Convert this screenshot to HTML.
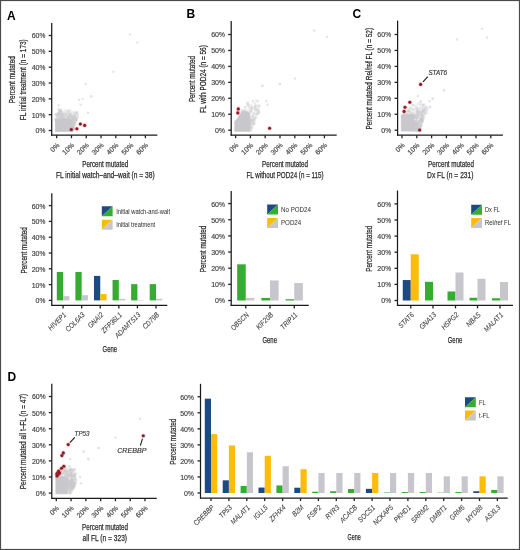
<!DOCTYPE html>
<html><head><meta charset="utf-8"><style>
html,body{margin:0;padding:0;background:#fff;}
body{width:520px;height:550px;overflow:hidden;}
svg{display:block;font-family:"Liberation Sans", sans-serif;filter:blur(0.35px);}
</style></head><body>
<svg width="520" height="550" viewBox="0 0 520 550">
<rect x="0" y="0" width="520" height="550" fill="#fff"/>
<text x="7.00" y="19.70" font-size="12" text-anchor="start" fill="#000" font-weight="bold">A</text>
<text x="186.60" y="17.60" font-size="12" text-anchor="start" fill="#000" font-weight="bold">B</text>
<text x="352.60" y="17.60" font-size="12" text-anchor="start" fill="#000" font-weight="bold">C</text>
<text x="7.60" y="380.50" font-size="12" text-anchor="start" fill="#000" font-weight="bold">D</text>
<line x1="51.70" y1="23.00" x2="51.70" y2="135.80" stroke="#1a1a1a" stroke-width="1.25"/>
<line x1="48.70" y1="130.50" x2="51.70" y2="130.50" stroke="#222" stroke-width="1.3"/>
<text x="45.40" y="133.40" font-size="7.0" text-anchor="end" fill="#3d3d3d" stroke="#3d3d3d" stroke-width="0.15">0<tspan font-size="6.6" >%</tspan></text>
<line x1="48.70" y1="114.67" x2="51.70" y2="114.67" stroke="#222" stroke-width="1.3"/>
<text x="45.40" y="117.57" font-size="7.0" text-anchor="end" fill="#3d3d3d" stroke="#3d3d3d" stroke-width="0.15">10<tspan font-size="6.6" >%</tspan></text>
<line x1="48.70" y1="98.84" x2="51.70" y2="98.84" stroke="#222" stroke-width="1.3"/>
<text x="45.40" y="101.74" font-size="7.0" text-anchor="end" fill="#3d3d3d" stroke="#3d3d3d" stroke-width="0.15">20<tspan font-size="6.6" >%</tspan></text>
<line x1="48.70" y1="83.01" x2="51.70" y2="83.01" stroke="#222" stroke-width="1.3"/>
<text x="45.40" y="85.91" font-size="7.0" text-anchor="end" fill="#3d3d3d" stroke="#3d3d3d" stroke-width="0.15">30<tspan font-size="6.6" >%</tspan></text>
<line x1="48.70" y1="67.18" x2="51.70" y2="67.18" stroke="#222" stroke-width="1.3"/>
<text x="45.40" y="70.08" font-size="7.0" text-anchor="end" fill="#3d3d3d" stroke="#3d3d3d" stroke-width="0.15">40<tspan font-size="6.6" >%</tspan></text>
<line x1="48.70" y1="51.35" x2="51.70" y2="51.35" stroke="#222" stroke-width="1.3"/>
<text x="45.40" y="54.25" font-size="7.0" text-anchor="end" fill="#3d3d3d" stroke="#3d3d3d" stroke-width="0.15">50<tspan font-size="6.6" >%</tspan></text>
<line x1="48.70" y1="35.52" x2="51.70" y2="35.52" stroke="#222" stroke-width="1.3"/>
<text x="45.40" y="38.42" font-size="7.0" text-anchor="end" fill="#3d3d3d" stroke="#3d3d3d" stroke-width="0.15">60<tspan font-size="6.6" >%</tspan></text>
<line x1="51.00" y1="135.20" x2="157.30" y2="135.20" stroke="#1a1a1a" stroke-width="1.25"/>
<line x1="56.70" y1="135.20" x2="56.70" y2="138.20" stroke="#222" stroke-width="1.3"/>
<text x="59.90" y="145.60" font-size="7.0" text-anchor="end" fill="#3d3d3d" stroke="#3d3d3d" stroke-width="0.15" transform="rotate(-45 59.90 145.60)">0<tspan font-size="6.6" >%</tspan></text>
<line x1="71.48" y1="135.20" x2="71.48" y2="138.20" stroke="#222" stroke-width="1.3"/>
<text x="74.68" y="145.60" font-size="7.0" text-anchor="end" fill="#3d3d3d" stroke="#3d3d3d" stroke-width="0.15" transform="rotate(-45 74.68 145.60)">10<tspan font-size="6.6" >%</tspan></text>
<line x1="86.26" y1="135.20" x2="86.26" y2="138.20" stroke="#222" stroke-width="1.3"/>
<text x="89.46" y="145.60" font-size="7.0" text-anchor="end" fill="#3d3d3d" stroke="#3d3d3d" stroke-width="0.15" transform="rotate(-45 89.46 145.60)">20<tspan font-size="6.6" >%</tspan></text>
<line x1="101.04" y1="135.20" x2="101.04" y2="138.20" stroke="#222" stroke-width="1.3"/>
<text x="104.24" y="145.60" font-size="7.0" text-anchor="end" fill="#3d3d3d" stroke="#3d3d3d" stroke-width="0.15" transform="rotate(-45 104.24 145.60)">30<tspan font-size="6.6" >%</tspan></text>
<line x1="115.82" y1="135.20" x2="115.82" y2="138.20" stroke="#222" stroke-width="1.3"/>
<text x="119.02" y="145.60" font-size="7.0" text-anchor="end" fill="#3d3d3d" stroke="#3d3d3d" stroke-width="0.15" transform="rotate(-45 119.02 145.60)">40<tspan font-size="6.6" >%</tspan></text>
<line x1="130.60" y1="135.20" x2="130.60" y2="138.20" stroke="#222" stroke-width="1.3"/>
<text x="133.80" y="145.60" font-size="7.0" text-anchor="end" fill="#3d3d3d" stroke="#3d3d3d" stroke-width="0.15" transform="rotate(-45 133.80 145.60)">50<tspan font-size="6.6" >%</tspan></text>
<line x1="145.38" y1="135.20" x2="145.38" y2="138.20" stroke="#222" stroke-width="1.3"/>
<text x="148.58" y="145.60" font-size="7.0" text-anchor="end" fill="#3d3d3d" stroke="#3d3d3d" stroke-width="0.15" transform="rotate(-45 148.58 145.60)">60<tspan font-size="6.6" >%</tspan></text>
<text x="15.50" y="79.70" font-size="9.0" text-anchor="middle" fill="#2a2a2a" stroke="#2a2a2a" stroke-width="0.25" textLength="46.90" lengthAdjust="spacingAndGlyphs" transform="rotate(-90 15.50 79.70)">Percent mutated</text>
<text x="25.70" y="79.70" font-size="9.0" text-anchor="middle" fill="#2a2a2a" stroke="#2a2a2a" stroke-width="0.25" textLength="80.90" lengthAdjust="spacingAndGlyphs" transform="rotate(-90 25.70 79.70)">FL initial treatment (n = 173)</text>
<text x="105.20" y="166.60" font-size="9.0" text-anchor="middle" fill="#2a2a2a" stroke="#2a2a2a" stroke-width="0.25" textLength="45.90" lengthAdjust="spacingAndGlyphs">Percent mutated</text>
<text x="105.30" y="177.50" font-size="9.0" text-anchor="middle" fill="#2a2a2a" stroke="#2a2a2a" stroke-width="0.25" textLength="98.60" lengthAdjust="spacingAndGlyphs">FL initial watch–and–wait (n = 38)</text>
<circle cx="56.92" cy="120.88" r="1.3" fill="#c9c9cd" fill-opacity="0.3"/>
<circle cx="56.58" cy="120.22" r="1.3" fill="#c9c9cd" fill-opacity="0.3"/>
<circle cx="65.52" cy="110.11" r="1.3" fill="#c9c9cd" fill-opacity="0.3"/>
<circle cx="71.39" cy="118.38" r="1.3" fill="#c9c9cd" fill-opacity="0.3"/>
<circle cx="69.14" cy="118.97" r="1.3" fill="#c9c9cd" fill-opacity="0.3"/>
<circle cx="74.11" cy="124.65" r="1.3" fill="#c9c9cd" fill-opacity="0.3"/>
<circle cx="58.82" cy="119.80" r="1.3" fill="#c9c9cd" fill-opacity="0.3"/>
<circle cx="71.10" cy="126.16" r="1.3" fill="#c9c9cd" fill-opacity="0.3"/>
<circle cx="69.35" cy="121.90" r="1.3" fill="#c9c9cd" fill-opacity="0.3"/>
<circle cx="55.74" cy="119.17" r="1.3" fill="#c9c9cd" fill-opacity="0.3"/>
<circle cx="58.79" cy="112.57" r="1.3" fill="#c9c9cd" fill-opacity="0.3"/>
<circle cx="73.76" cy="128.70" r="1.3" fill="#c9c9cd" fill-opacity="0.3"/>
<circle cx="64.54" cy="117.72" r="1.3" fill="#c9c9cd" fill-opacity="0.3"/>
<circle cx="70.30" cy="109.94" r="1.3" fill="#c9c9cd" fill-opacity="0.3"/>
<circle cx="57.61" cy="116.90" r="1.3" fill="#c9c9cd" fill-opacity="0.3"/>
<circle cx="61.20" cy="116.52" r="1.3" fill="#c9c9cd" fill-opacity="0.3"/>
<circle cx="66.29" cy="119.68" r="1.3" fill="#c9c9cd" fill-opacity="0.3"/>
<circle cx="57.63" cy="116.41" r="1.3" fill="#c9c9cd" fill-opacity="0.3"/>
<circle cx="74.93" cy="112.23" r="1.3" fill="#c9c9cd" fill-opacity="0.3"/>
<circle cx="61.41" cy="116.97" r="1.3" fill="#c9c9cd" fill-opacity="0.3"/>
<circle cx="67.52" cy="116.71" r="1.3" fill="#c9c9cd" fill-opacity="0.3"/>
<circle cx="55.86" cy="114.95" r="1.3" fill="#c9c9cd" fill-opacity="0.3"/>
<circle cx="71.68" cy="130.60" r="1.3" fill="#c9c9cd" fill-opacity="0.3"/>
<circle cx="63.88" cy="113.59" r="1.3" fill="#c9c9cd" fill-opacity="0.3"/>
<circle cx="70.74" cy="126.97" r="1.3" fill="#c9c9cd" fill-opacity="0.3"/>
<circle cx="70.92" cy="129.52" r="1.3" fill="#c9c9cd" fill-opacity="0.3"/>
<circle cx="73.05" cy="119.54" r="1.3" fill="#c9c9cd" fill-opacity="0.3"/>
<circle cx="68.26" cy="111.53" r="1.3" fill="#c9c9cd" fill-opacity="0.3"/>
<circle cx="74.86" cy="113.38" r="1.3" fill="#c9c9cd" fill-opacity="0.3"/>
<circle cx="61.37" cy="118.18" r="1.3" fill="#c9c9cd" fill-opacity="0.3"/>
<circle cx="68.42" cy="126.62" r="1.3" fill="#c9c9cd" fill-opacity="0.3"/>
<circle cx="68.54" cy="114.24" r="1.3" fill="#c9c9cd" fill-opacity="0.3"/>
<circle cx="73.58" cy="120.23" r="1.3" fill="#c9c9cd" fill-opacity="0.3"/>
<circle cx="73.29" cy="129.58" r="1.3" fill="#c9c9cd" fill-opacity="0.3"/>
<circle cx="69.78" cy="120.18" r="1.3" fill="#c9c9cd" fill-opacity="0.3"/>
<circle cx="56.93" cy="114.06" r="1.3" fill="#c9c9cd" fill-opacity="0.3"/>
<circle cx="70.05" cy="120.33" r="1.3" fill="#c9c9cd" fill-opacity="0.3"/>
<circle cx="57.69" cy="114.63" r="1.3" fill="#c9c9cd" fill-opacity="0.3"/>
<circle cx="73.74" cy="114.75" r="1.3" fill="#c9c9cd" fill-opacity="0.3"/>
<circle cx="68.78" cy="124.68" r="1.3" fill="#c9c9cd" fill-opacity="0.3"/>
<circle cx="60.87" cy="111.03" r="1.3" fill="#c9c9cd" fill-opacity="0.3"/>
<circle cx="55.63" cy="114.29" r="1.3" fill="#c9c9cd" fill-opacity="0.3"/>
<circle cx="72.65" cy="121.23" r="1.3" fill="#c9c9cd" fill-opacity="0.3"/>
<circle cx="74.69" cy="118.48" r="1.3" fill="#c9c9cd" fill-opacity="0.3"/>
<circle cx="64.83" cy="116.53" r="1.3" fill="#c9c9cd" fill-opacity="0.3"/>
<circle cx="61.28" cy="112.27" r="1.3" fill="#c9c9cd" fill-opacity="0.3"/>
<circle cx="61.91" cy="114.10" r="1.3" fill="#c9c9cd" fill-opacity="0.3"/>
<circle cx="62.57" cy="116.74" r="1.3" fill="#c9c9cd" fill-opacity="0.3"/>
<circle cx="64.28" cy="119.46" r="1.3" fill="#c9c9cd" fill-opacity="0.3"/>
<circle cx="59.98" cy="120.16" r="1.3" fill="#c9c9cd" fill-opacity="0.3"/>
<circle cx="60.74" cy="122.03" r="1.3" fill="#c9c9cd" fill-opacity="0.3"/>
<circle cx="76.12" cy="117.50" r="1.3" fill="#c9c9cd" fill-opacity="0.3"/>
<circle cx="67.20" cy="127.79" r="1.3" fill="#c9c9cd" fill-opacity="0.3"/>
<circle cx="71.45" cy="124.52" r="1.3" fill="#c9c9cd" fill-opacity="0.3"/>
<circle cx="70.14" cy="122.97" r="1.3" fill="#c9c9cd" fill-opacity="0.3"/>
<circle cx="73.01" cy="120.12" r="1.3" fill="#c9c9cd" fill-opacity="0.3"/>
<circle cx="69.88" cy="123.35" r="1.3" fill="#c9c9cd" fill-opacity="0.3"/>
<circle cx="62.45" cy="121.62" r="1.3" fill="#c9c9cd" fill-opacity="0.3"/>
<circle cx="71.67" cy="124.11" r="1.3" fill="#c9c9cd" fill-opacity="0.3"/>
<circle cx="67.49" cy="119.23" r="1.3" fill="#c9c9cd" fill-opacity="0.3"/>
<circle cx="65.90" cy="114.71" r="1.3" fill="#c9c9cd" fill-opacity="0.3"/>
<circle cx="76.57" cy="119.73" r="1.3" fill="#c9c9cd" fill-opacity="0.3"/>
<circle cx="55.29" cy="119.86" r="1.3" fill="#c9c9cd" fill-opacity="0.3"/>
<circle cx="73.07" cy="127.88" r="1.3" fill="#c9c9cd" fill-opacity="0.3"/>
<circle cx="62.10" cy="117.10" r="1.3" fill="#c9c9cd" fill-opacity="0.3"/>
<circle cx="65.39" cy="114.86" r="1.3" fill="#c9c9cd" fill-opacity="0.3"/>
<circle cx="77.47" cy="114.26" r="1.3" fill="#c9c9cd" fill-opacity="0.3"/>
<circle cx="68.27" cy="125.12" r="1.3" fill="#c9c9cd" fill-opacity="0.3"/>
<circle cx="70.54" cy="115.11" r="1.3" fill="#c9c9cd" fill-opacity="0.3"/>
<circle cx="62.36" cy="121.37" r="1.3" fill="#c9c9cd" fill-opacity="0.3"/>
<circle cx="59.18" cy="112.23" r="1.3" fill="#c9c9cd" fill-opacity="0.3"/>
<circle cx="76.76" cy="119.98" r="1.3" fill="#c9c9cd" fill-opacity="0.3"/>
<circle cx="58.52" cy="112.94" r="1.3" fill="#c9c9cd" fill-opacity="0.3"/>
<circle cx="73.04" cy="118.04" r="1.3" fill="#c9c9cd" fill-opacity="0.3"/>
<circle cx="67.68" cy="117.21" r="1.3" fill="#c9c9cd" fill-opacity="0.3"/>
<circle cx="75.74" cy="113.49" r="1.3" fill="#c9c9cd" fill-opacity="0.3"/>
<circle cx="61.11" cy="117.73" r="1.3" fill="#c9c9cd" fill-opacity="0.3"/>
<circle cx="61.11" cy="111.02" r="1.3" fill="#c9c9cd" fill-opacity="0.3"/>
<circle cx="66.08" cy="121.24" r="1.3" fill="#c9c9cd" fill-opacity="0.3"/>
<circle cx="70.56" cy="115.52" r="1.3" fill="#c9c9cd" fill-opacity="0.3"/>
<circle cx="69.07" cy="117.46" r="1.3" fill="#c9c9cd" fill-opacity="0.3"/>
<circle cx="76.23" cy="119.48" r="1.3" fill="#c9c9cd" fill-opacity="0.3"/>
<circle cx="71.25" cy="118.20" r="1.3" fill="#c9c9cd" fill-opacity="0.3"/>
<circle cx="71.08" cy="129.87" r="1.3" fill="#c9c9cd" fill-opacity="0.3"/>
<circle cx="72.79" cy="120.16" r="1.3" fill="#c9c9cd" fill-opacity="0.3"/>
<circle cx="71.03" cy="130.42" r="1.3" fill="#c9c9cd" fill-opacity="0.3"/>
<circle cx="58.58" cy="109.70" r="1.3" fill="#c9c9cd" fill-opacity="0.3"/>
<circle cx="64.21" cy="117.14" r="1.3" fill="#c9c9cd" fill-opacity="0.3"/>
<circle cx="56.37" cy="119.44" r="1.3" fill="#c9c9cd" fill-opacity="0.3"/>
<circle cx="62.73" cy="114.87" r="1.3" fill="#c9c9cd" fill-opacity="0.3"/>
<circle cx="73.18" cy="129.67" r="1.3" fill="#c9c9cd" fill-opacity="0.3"/>
<circle cx="73.59" cy="122.53" r="1.3" fill="#c9c9cd" fill-opacity="0.3"/>
<circle cx="61.09" cy="110.00" r="1.3" fill="#c9c9cd" fill-opacity="0.3"/>
<circle cx="72.09" cy="118.82" r="1.3" fill="#c9c9cd" fill-opacity="0.3"/>
<circle cx="65.12" cy="122.83" r="1.3" fill="#c9c9cd" fill-opacity="0.3"/>
<circle cx="73.00" cy="128.07" r="1.3" fill="#c9c9cd" fill-opacity="0.3"/>
<circle cx="59.94" cy="114.22" r="1.3" fill="#c9c9cd" fill-opacity="0.3"/>
<circle cx="66.50" cy="127.42" r="1.3" fill="#c9c9cd" fill-opacity="0.3"/>
<circle cx="75.81" cy="118.87" r="1.3" fill="#c9c9cd" fill-opacity="0.3"/>
<circle cx="69.39" cy="122.82" r="1.3" fill="#c9c9cd" fill-opacity="0.3"/>
<circle cx="63.98" cy="111.77" r="1.3" fill="#c9c9cd" fill-opacity="0.3"/>
<circle cx="61.27" cy="122.35" r="1.3" fill="#c9c9cd" fill-opacity="0.3"/>
<circle cx="68.29" cy="123.27" r="1.3" fill="#c9c9cd" fill-opacity="0.3"/>
<circle cx="62.63" cy="121.59" r="1.3" fill="#c9c9cd" fill-opacity="0.3"/>
<circle cx="76.21" cy="119.15" r="1.3" fill="#c9c9cd" fill-opacity="0.3"/>
<circle cx="64.03" cy="120.15" r="1.3" fill="#c9c9cd" fill-opacity="0.3"/>
<circle cx="67.53" cy="117.36" r="1.3" fill="#c9c9cd" fill-opacity="0.3"/>
<circle cx="65.33" cy="123.72" r="1.3" fill="#c9c9cd" fill-opacity="0.3"/>
<circle cx="73.76" cy="119.09" r="1.3" fill="#c9c9cd" fill-opacity="0.3"/>
<circle cx="66.46" cy="110.97" r="1.3" fill="#c9c9cd" fill-opacity="0.3"/>
<circle cx="77.09" cy="113.31" r="1.3" fill="#c9c9cd" fill-opacity="0.3"/>
<circle cx="67.24" cy="115.87" r="1.3" fill="#c9c9cd" fill-opacity="0.3"/>
<circle cx="71.38" cy="129.18" r="1.3" fill="#c9c9cd" fill-opacity="0.3"/>
<circle cx="73.40" cy="118.72" r="1.3" fill="#c9c9cd" fill-opacity="0.3"/>
<circle cx="69.14" cy="123.83" r="1.3" fill="#c9c9cd" fill-opacity="0.3"/>
<circle cx="60.54" cy="121.98" r="1.3" fill="#c9c9cd" fill-opacity="0.3"/>
<circle cx="60.06" cy="122.91" r="1.3" fill="#c9c9cd" fill-opacity="0.3"/>
<circle cx="67.85" cy="117.88" r="1.3" fill="#c9c9cd" fill-opacity="0.3"/>
<circle cx="59.95" cy="122.55" r="1.3" fill="#c9c9cd" fill-opacity="0.3"/>
<circle cx="70.47" cy="127.29" r="1.3" fill="#c9c9cd" fill-opacity="0.3"/>
<circle cx="62.56" cy="115.44" r="1.3" fill="#c9c9cd" fill-opacity="0.3"/>
<circle cx="66.27" cy="125.63" r="1.3" fill="#c9c9cd" fill-opacity="0.3"/>
<circle cx="71.74" cy="128.03" r="1.3" fill="#c9c9cd" fill-opacity="0.3"/>
<circle cx="61.53" cy="121.29" r="1.3" fill="#c9c9cd" fill-opacity="0.3"/>
<circle cx="73.97" cy="120.59" r="1.3" fill="#c9c9cd" fill-opacity="0.3"/>
<circle cx="70.21" cy="124.50" r="1.3" fill="#c9c9cd" fill-opacity="0.3"/>
<circle cx="71.80" cy="128.31" r="1.3" fill="#c9c9cd" fill-opacity="0.3"/>
<circle cx="72.45" cy="121.67" r="1.3" fill="#c9c9cd" fill-opacity="0.3"/>
<circle cx="60.24" cy="122.88" r="1.3" fill="#c9c9cd" fill-opacity="0.3"/>
<circle cx="76.88" cy="111.84" r="1.3" fill="#c9c9cd" fill-opacity="0.3"/>
<circle cx="58.58" cy="109.16" r="1.3" fill="#c9c9cd" fill-opacity="0.3"/>
<circle cx="60.10" cy="111.09" r="1.3" fill="#c9c9cd" fill-opacity="0.3"/>
<circle cx="74.84" cy="123.09" r="1.3" fill="#c9c9cd" fill-opacity="0.3"/>
<circle cx="55.70" cy="114.43" r="1.3" fill="#c9c9cd" fill-opacity="0.3"/>
<circle cx="72.24" cy="117.00" r="1.3" fill="#c9c9cd" fill-opacity="0.3"/>
<circle cx="65.59" cy="126.36" r="1.3" fill="#c9c9cd" fill-opacity="0.3"/>
<circle cx="71.97" cy="120.93" r="1.3" fill="#c9c9cd" fill-opacity="0.3"/>
<circle cx="59.59" cy="119.92" r="1.3" fill="#c9c9cd" fill-opacity="0.3"/>
<circle cx="73.93" cy="123.01" r="1.3" fill="#c9c9cd" fill-opacity="0.3"/>
<circle cx="60.76" cy="119.15" r="1.3" fill="#c9c9cd" fill-opacity="0.3"/>
<circle cx="73.16" cy="125.89" r="1.3" fill="#c9c9cd" fill-opacity="0.3"/>
<circle cx="63.49" cy="116.05" r="1.3" fill="#c9c9cd" fill-opacity="0.3"/>
<circle cx="76.27" cy="114.00" r="1.3" fill="#c9c9cd" fill-opacity="0.3"/>
<circle cx="62.97" cy="120.56" r="1.3" fill="#c9c9cd" fill-opacity="0.3"/>
<circle cx="74.12" cy="125.44" r="1.3" fill="#c9c9cd" fill-opacity="0.3"/>
<circle cx="59.87" cy="123.24" r="1.3" fill="#c9c9cd" fill-opacity="0.3"/>
<circle cx="60.11" cy="117.47" r="1.3" fill="#c9c9cd" fill-opacity="0.3"/>
<circle cx="67.11" cy="123.11" r="1.3" fill="#c9c9cd" fill-opacity="0.3"/>
<circle cx="58.58" cy="122.45" r="1.3" fill="#c9c9cd" fill-opacity="0.3"/>
<circle cx="72.83" cy="129.47" r="1.3" fill="#c9c9cd" fill-opacity="0.3"/>
<circle cx="68.86" cy="125.80" r="1.3" fill="#c9c9cd" fill-opacity="0.3"/>
<circle cx="71.37" cy="123.32" r="1.3" fill="#c9c9cd" fill-opacity="0.3"/>
<circle cx="62.65" cy="123.01" r="1.3" fill="#c9c9cd" fill-opacity="0.3"/>
<circle cx="65.19" cy="126.57" r="1.3" fill="#c9c9cd" fill-opacity="0.3"/>
<circle cx="66.03" cy="122.86" r="1.3" fill="#c9c9cd" fill-opacity="0.3"/>
<circle cx="71.27" cy="129.99" r="1.3" fill="#c9c9cd" fill-opacity="0.3"/>
<circle cx="70.78" cy="126.48" r="1.3" fill="#c9c9cd" fill-opacity="0.3"/>
<circle cx="65.21" cy="124.63" r="1.3" fill="#c9c9cd" fill-opacity="0.3"/>
<circle cx="74.28" cy="117.55" r="1.3" fill="#c9c9cd" fill-opacity="0.3"/>
<circle cx="70.40" cy="127.41" r="1.3" fill="#c9c9cd" fill-opacity="0.3"/>
<circle cx="61.23" cy="118.34" r="1.3" fill="#c9c9cd" fill-opacity="0.3"/>
<circle cx="65.40" cy="123.22" r="1.3" fill="#c9c9cd" fill-opacity="0.3"/>
<circle cx="73.68" cy="116.50" r="1.3" fill="#c9c9cd" fill-opacity="0.3"/>
<circle cx="71.11" cy="129.15" r="1.3" fill="#c9c9cd" fill-opacity="0.3"/>
<circle cx="67.83" cy="125.64" r="1.3" fill="#c9c9cd" fill-opacity="0.3"/>
<circle cx="76.21" cy="121.32" r="1.3" fill="#c9c9cd" fill-opacity="0.3"/>
<circle cx="56.59" cy="119.29" r="1.3" fill="#c9c9cd" fill-opacity="0.3"/>
<circle cx="66.89" cy="120.01" r="1.3" fill="#c9c9cd" fill-opacity="0.3"/>
<circle cx="75.21" cy="117.16" r="1.3" fill="#c9c9cd" fill-opacity="0.3"/>
<circle cx="71.45" cy="130.02" r="1.3" fill="#c9c9cd" fill-opacity="0.3"/>
<circle cx="63.91" cy="119.46" r="1.3" fill="#c9c9cd" fill-opacity="0.3"/>
<circle cx="63.08" cy="115.82" r="1.3" fill="#c9c9cd" fill-opacity="0.3"/>
<circle cx="70.12" cy="124.59" r="1.3" fill="#c9c9cd" fill-opacity="0.3"/>
<circle cx="66.10" cy="126.12" r="1.3" fill="#c9c9cd" fill-opacity="0.3"/>
<circle cx="60.25" cy="112.01" r="1.3" fill="#c9c9cd" fill-opacity="0.3"/>
<circle cx="70.16" cy="124.88" r="1.3" fill="#c9c9cd" fill-opacity="0.3"/>
<circle cx="70.69" cy="127.38" r="1.3" fill="#c9c9cd" fill-opacity="0.3"/>
<circle cx="62.60" cy="125.35" r="1.3" fill="#c9c9cd" fill-opacity="0.3"/>
<circle cx="75.69" cy="119.73" r="1.3" fill="#c9c9cd" fill-opacity="0.3"/>
<circle cx="63.95" cy="121.78" r="1.3" fill="#c9c9cd" fill-opacity="0.3"/>
<circle cx="63.85" cy="123.40" r="1.3" fill="#c9c9cd" fill-opacity="0.3"/>
<circle cx="71.94" cy="127.61" r="1.3" fill="#c9c9cd" fill-opacity="0.3"/>
<circle cx="69.52" cy="129.20" r="1.3" fill="#c9c9cd" fill-opacity="0.3"/>
<circle cx="71.49" cy="129.61" r="1.3" fill="#c9c9cd" fill-opacity="0.3"/>
<circle cx="66.27" cy="113.27" r="1.3" fill="#c9c9cd" fill-opacity="0.3"/>
<circle cx="73.08" cy="126.79" r="1.3" fill="#c9c9cd" fill-opacity="0.3"/>
<circle cx="76.27" cy="120.55" r="1.3" fill="#c9c9cd" fill-opacity="0.3"/>
<circle cx="69.23" cy="112.87" r="1.3" fill="#c9c9cd" fill-opacity="0.3"/>
<circle cx="63.41" cy="120.50" r="1.3" fill="#c9c9cd" fill-opacity="0.3"/>
<circle cx="66.77" cy="121.60" r="1.3" fill="#c9c9cd" fill-opacity="0.3"/>
<circle cx="59.50" cy="110.43" r="1.3" fill="#c9c9cd" fill-opacity="0.3"/>
<circle cx="68.47" cy="128.61" r="1.3" fill="#c9c9cd" fill-opacity="0.3"/>
<circle cx="69.43" cy="117.68" r="1.3" fill="#c9c9cd" fill-opacity="0.3"/>
<circle cx="64.56" cy="118.86" r="1.3" fill="#c9c9cd" fill-opacity="0.3"/>
<circle cx="59.21" cy="114.01" r="1.3" fill="#c9c9cd" fill-opacity="0.3"/>
<circle cx="70.16" cy="118.95" r="1.3" fill="#c9c9cd" fill-opacity="0.3"/>
<circle cx="58.60" cy="113.62" r="1.3" fill="#c9c9cd" fill-opacity="0.3"/>
<circle cx="72.19" cy="121.28" r="1.3" fill="#c9c9cd" fill-opacity="0.3"/>
<circle cx="62.01" cy="114.46" r="1.3" fill="#c9c9cd" fill-opacity="0.3"/>
<circle cx="74.41" cy="116.37" r="1.3" fill="#c9c9cd" fill-opacity="0.3"/>
<circle cx="60.39" cy="121.70" r="1.3" fill="#c9c9cd" fill-opacity="0.3"/>
<circle cx="59.88" cy="110.33" r="1.3" fill="#c9c9cd" fill-opacity="0.3"/>
<circle cx="69.68" cy="119.95" r="1.3" fill="#c9c9cd" fill-opacity="0.3"/>
<circle cx="74.52" cy="121.97" r="1.3" fill="#c9c9cd" fill-opacity="0.3"/>
<circle cx="55.31" cy="120.51" r="1.3" fill="#c9c9cd" fill-opacity="0.3"/>
<circle cx="66.98" cy="120.36" r="1.3" fill="#c9c9cd" fill-opacity="0.3"/>
<circle cx="60.52" cy="112.71" r="1.3" fill="#c9c9cd" fill-opacity="0.3"/>
<circle cx="67.65" cy="124.73" r="1.3" fill="#c9c9cd" fill-opacity="0.3"/>
<circle cx="58.13" cy="119.90" r="1.3" fill="#c9c9cd" fill-opacity="0.3"/>
<circle cx="73.69" cy="116.32" r="1.3" fill="#c9c9cd" fill-opacity="0.3"/>
<circle cx="65.25" cy="123.12" r="1.3" fill="#c9c9cd" fill-opacity="0.3"/>
<circle cx="61.53" cy="124.17" r="1.3" fill="#c9c9cd" fill-opacity="0.3"/>
<circle cx="61.16" cy="120.52" r="1.3" fill="#c9c9cd" fill-opacity="0.3"/>
<circle cx="77.83" cy="115.14" r="1.3" fill="#c9c9cd" fill-opacity="0.3"/>
<circle cx="66.30" cy="120.83" r="1.3" fill="#c9c9cd" fill-opacity="0.3"/>
<circle cx="64.88" cy="115.16" r="1.3" fill="#c9c9cd" fill-opacity="0.3"/>
<circle cx="68.24" cy="122.66" r="1.3" fill="#c9c9cd" fill-opacity="0.3"/>
<circle cx="62.59" cy="114.10" r="1.3" fill="#c9c9cd" fill-opacity="0.3"/>
<circle cx="60.88" cy="121.36" r="1.3" fill="#c9c9cd" fill-opacity="0.3"/>
<circle cx="73.58" cy="112.16" r="1.3" fill="#c9c9cd" fill-opacity="0.3"/>
<circle cx="75.94" cy="118.66" r="1.3" fill="#c9c9cd" fill-opacity="0.3"/>
<circle cx="63.59" cy="124.10" r="1.3" fill="#c9c9cd" fill-opacity="0.3"/>
<circle cx="72.78" cy="125.67" r="1.3" fill="#c9c9cd" fill-opacity="0.3"/>
<circle cx="66.51" cy="126.63" r="1.3" fill="#c9c9cd" fill-opacity="0.3"/>
<circle cx="69.65" cy="117.27" r="1.3" fill="#c9c9cd" fill-opacity="0.3"/>
<circle cx="66.10" cy="125.20" r="1.3" fill="#c9c9cd" fill-opacity="0.3"/>
<circle cx="64.50" cy="121.33" r="1.3" fill="#c9c9cd" fill-opacity="0.3"/>
<circle cx="67.09" cy="118.76" r="1.3" fill="#c9c9cd" fill-opacity="0.3"/>
<circle cx="64.74" cy="121.47" r="1.3" fill="#c9c9cd" fill-opacity="0.3"/>
<circle cx="74.86" cy="120.34" r="1.3" fill="#c9c9cd" fill-opacity="0.3"/>
<circle cx="67.22" cy="112.85" r="1.3" fill="#c9c9cd" fill-opacity="0.3"/>
<circle cx="70.20" cy="122.43" r="1.3" fill="#c9c9cd" fill-opacity="0.3"/>
<circle cx="64.99" cy="126.69" r="1.3" fill="#c9c9cd" fill-opacity="0.3"/>
<circle cx="59.88" cy="120.00" r="1.3" fill="#c9c9cd" fill-opacity="0.3"/>
<circle cx="61.53" cy="123.44" r="1.3" fill="#c9c9cd" fill-opacity="0.3"/>
<circle cx="67.64" cy="127.51" r="1.3" fill="#c9c9cd" fill-opacity="0.3"/>
<circle cx="63.50" cy="118.89" r="1.3" fill="#c9c9cd" fill-opacity="0.3"/>
<circle cx="66.73" cy="126.81" r="1.3" fill="#c9c9cd" fill-opacity="0.3"/>
<circle cx="59.33" cy="116.78" r="1.3" fill="#c9c9cd" fill-opacity="0.3"/>
<circle cx="57.93" cy="120.83" r="1.3" fill="#c9c9cd" fill-opacity="0.3"/>
<circle cx="74.85" cy="116.61" r="1.3" fill="#c9c9cd" fill-opacity="0.3"/>
<circle cx="59.75" cy="115.05" r="1.3" fill="#c9c9cd" fill-opacity="0.3"/>
<circle cx="67.41" cy="121.03" r="1.3" fill="#c9c9cd" fill-opacity="0.3"/>
<circle cx="68.71" cy="115.68" r="1.3" fill="#c9c9cd" fill-opacity="0.3"/>
<circle cx="62.84" cy="123.81" r="1.3" fill="#c9c9cd" fill-opacity="0.3"/>
<circle cx="73.64" cy="128.89" r="1.3" fill="#c9c9cd" fill-opacity="0.3"/>
<circle cx="58.35" cy="114.89" r="1.3" fill="#c9c9cd" fill-opacity="0.3"/>
<circle cx="71.38" cy="123.83" r="1.3" fill="#c9c9cd" fill-opacity="0.3"/>
<circle cx="65.02" cy="123.72" r="1.3" fill="#c9c9cd" fill-opacity="0.3"/>
<circle cx="70.17" cy="112.70" r="1.3" fill="#c9c9cd" fill-opacity="0.3"/>
<circle cx="59.91" cy="115.50" r="1.3" fill="#c9c9cd" fill-opacity="0.3"/>
<circle cx="71.49" cy="116.56" r="1.3" fill="#c9c9cd" fill-opacity="0.3"/>
<circle cx="56.33" cy="114.15" r="1.3" fill="#c9c9cd" fill-opacity="0.3"/>
<circle cx="72.78" cy="127.67" r="1.3" fill="#c9c9cd" fill-opacity="0.3"/>
<circle cx="71.93" cy="127.11" r="1.3" fill="#c9c9cd" fill-opacity="0.3"/>
<circle cx="68.15" cy="114.27" r="1.3" fill="#c9c9cd" fill-opacity="0.3"/>
<circle cx="63.72" cy="118.01" r="1.3" fill="#c9c9cd" fill-opacity="0.3"/>
<circle cx="71.15" cy="113.99" r="1.3" fill="#c9c9cd" fill-opacity="0.3"/>
<circle cx="58.58" cy="121.51" r="1.3" fill="#c9c9cd" fill-opacity="0.3"/>
<circle cx="57.92" cy="115.18" r="1.3" fill="#c9c9cd" fill-opacity="0.3"/>
<circle cx="63.84" cy="112.38" r="1.3" fill="#c9c9cd" fill-opacity="0.3"/>
<circle cx="61.18" cy="114.18" r="1.3" fill="#c9c9cd" fill-opacity="0.3"/>
<circle cx="73.87" cy="127.68" r="1.3" fill="#c9c9cd" fill-opacity="0.3"/>
<circle cx="56.15" cy="118.65" r="1.3" fill="#c9c9cd" fill-opacity="0.3"/>
<circle cx="61.94" cy="123.78" r="1.3" fill="#c9c9cd" fill-opacity="0.3"/>
<circle cx="68.61" cy="116.54" r="1.3" fill="#c9c9cd" fill-opacity="0.3"/>
<circle cx="64.05" cy="121.92" r="1.3" fill="#c9c9cd" fill-opacity="0.3"/>
<circle cx="67.81" cy="121.55" r="1.3" fill="#c9c9cd" fill-opacity="0.3"/>
<circle cx="61.19" cy="119.80" r="1.3" fill="#c9c9cd" fill-opacity="0.3"/>
<circle cx="60.59" cy="121.73" r="1.3" fill="#c9c9cd" fill-opacity="0.3"/>
<circle cx="67.41" cy="122.09" r="1.3" fill="#c9c9cd" fill-opacity="0.3"/>
<circle cx="68.60" cy="126.40" r="1.3" fill="#c9c9cd" fill-opacity="0.3"/>
<circle cx="72.75" cy="130.40" r="1.3" fill="#c9c9cd" fill-opacity="0.3"/>
<circle cx="68.26" cy="127.05" r="1.3" fill="#c9c9cd" fill-opacity="0.3"/>
<circle cx="69.04" cy="111.12" r="1.3" fill="#c9c9cd" fill-opacity="0.3"/>
<circle cx="74.68" cy="124.20" r="1.3" fill="#c9c9cd" fill-opacity="0.3"/>
<circle cx="57.01" cy="116.11" r="1.3" fill="#c9c9cd" fill-opacity="0.3"/>
<circle cx="68.93" cy="117.46" r="1.3" fill="#c9c9cd" fill-opacity="0.3"/>
<circle cx="61.44" cy="121.64" r="1.3" fill="#c9c9cd" fill-opacity="0.3"/>
<circle cx="73.63" cy="123.12" r="1.3" fill="#c9c9cd" fill-opacity="0.3"/>
<circle cx="67.31" cy="123.17" r="1.3" fill="#c9c9cd" fill-opacity="0.3"/>
<circle cx="68.31" cy="117.88" r="1.3" fill="#c9c9cd" fill-opacity="0.3"/>
<circle cx="66.66" cy="116.98" r="1.3" fill="#c9c9cd" fill-opacity="0.3"/>
<circle cx="60.79" cy="116.57" r="1.3" fill="#c9c9cd" fill-opacity="0.3"/>
<circle cx="65.80" cy="121.64" r="1.3" fill="#c9c9cd" fill-opacity="0.3"/>
<circle cx="62.54" cy="125.29" r="1.3" fill="#c9c9cd" fill-opacity="0.3"/>
<circle cx="61.77" cy="114.45" r="1.3" fill="#c9c9cd" fill-opacity="0.3"/>
<circle cx="60.40" cy="117.73" r="1.3" fill="#c9c9cd" fill-opacity="0.3"/>
<circle cx="69.55" cy="128.46" r="1.3" fill="#c9c9cd" fill-opacity="0.3"/>
<circle cx="76.04" cy="116.38" r="1.3" fill="#c9c9cd" fill-opacity="0.3"/>
<circle cx="70.43" cy="129.82" r="1.3" fill="#c9c9cd" fill-opacity="0.3"/>
<circle cx="64.85" cy="124.18" r="1.3" fill="#c9c9cd" fill-opacity="0.3"/>
<circle cx="56.57" cy="118.07" r="1.3" fill="#c9c9cd" fill-opacity="0.3"/>
<circle cx="72.43" cy="116.10" r="1.3" fill="#c9c9cd" fill-opacity="0.3"/>
<circle cx="68.02" cy="122.09" r="1.3" fill="#c9c9cd" fill-opacity="0.3"/>
<circle cx="70.85" cy="122.40" r="1.3" fill="#c9c9cd" fill-opacity="0.3"/>
<circle cx="73.37" cy="126.43" r="1.3" fill="#c9c9cd" fill-opacity="0.3"/>
<circle cx="70.80" cy="126.38" r="1.3" fill="#c9c9cd" fill-opacity="0.3"/>
<circle cx="56.63" cy="120.09" r="1.3" fill="#c9c9cd" fill-opacity="0.3"/>
<circle cx="77.13" cy="112.24" r="1.3" fill="#c9c9cd" fill-opacity="0.3"/>
<circle cx="67.07" cy="123.19" r="1.3" fill="#c9c9cd" fill-opacity="0.3"/>
<circle cx="74.25" cy="119.13" r="1.3" fill="#c9c9cd" fill-opacity="0.3"/>
<circle cx="70.13" cy="113.68" r="1.3" fill="#c9c9cd" fill-opacity="0.3"/>
<circle cx="61.44" cy="118.52" r="1.3" fill="#c9c9cd" fill-opacity="0.3"/>
<circle cx="74.78" cy="115.03" r="1.3" fill="#c9c9cd" fill-opacity="0.3"/>
<circle cx="71.45" cy="122.30" r="1.3" fill="#c9c9cd" fill-opacity="0.3"/>
<circle cx="68.99" cy="128.89" r="1.3" fill="#c9c9cd" fill-opacity="0.3"/>
<circle cx="60.71" cy="118.44" r="1.3" fill="#c9c9cd" fill-opacity="0.3"/>
<circle cx="58.43" cy="118.40" r="1.3" fill="#c9c9cd" fill-opacity="0.3"/>
<circle cx="72.61" cy="114.81" r="1.3" fill="#c9c9cd" fill-opacity="0.3"/>
<circle cx="61.50" cy="110.09" r="1.3" fill="#c9c9cd" fill-opacity="0.3"/>
<circle cx="70.74" cy="121.07" r="1.3" fill="#c9c9cd" fill-opacity="0.3"/>
<circle cx="72.28" cy="117.72" r="1.3" fill="#c9c9cd" fill-opacity="0.3"/>
<circle cx="64.37" cy="117.97" r="1.3" fill="#c9c9cd" fill-opacity="0.3"/>
<circle cx="64.17" cy="114.06" r="1.3" fill="#c9c9cd" fill-opacity="0.3"/>
<circle cx="62.92" cy="123.43" r="1.3" fill="#c9c9cd" fill-opacity="0.3"/>
<circle cx="72.96" cy="128.22" r="1.3" fill="#c9c9cd" fill-opacity="0.3"/>
<circle cx="70.18" cy="125.67" r="1.3" fill="#c9c9cd" fill-opacity="0.3"/>
<circle cx="69.78" cy="124.14" r="1.3" fill="#c9c9cd" fill-opacity="0.3"/>
<circle cx="70.17" cy="121.04" r="1.3" fill="#c9c9cd" fill-opacity="0.3"/>
<circle cx="66.46" cy="125.17" r="1.3" fill="#c9c9cd" fill-opacity="0.3"/>
<circle cx="66.54" cy="113.61" r="1.3" fill="#c9c9cd" fill-opacity="0.3"/>
<circle cx="67.75" cy="127.29" r="1.3" fill="#c9c9cd" fill-opacity="0.3"/>
<circle cx="58.86" cy="114.31" r="1.3" fill="#c9c9cd" fill-opacity="0.3"/>
<circle cx="66.58" cy="126.94" r="1.3" fill="#c9c9cd" fill-opacity="0.3"/>
<circle cx="63.29" cy="117.30" r="1.3" fill="#c9c9cd" fill-opacity="0.3"/>
<circle cx="59.98" cy="121.68" r="1.3" fill="#c9c9cd" fill-opacity="0.3"/>
<circle cx="69.91" cy="117.08" r="1.3" fill="#c9c9cd" fill-opacity="0.3"/>
<circle cx="74.50" cy="116.64" r="1.3" fill="#c9c9cd" fill-opacity="0.3"/>
<circle cx="71.04" cy="116.11" r="1.3" fill="#c9c9cd" fill-opacity="0.3"/>
<circle cx="71.16" cy="125.60" r="1.3" fill="#c9c9cd" fill-opacity="0.3"/>
<circle cx="73.51" cy="126.28" r="1.3" fill="#c9c9cd" fill-opacity="0.3"/>
<circle cx="72.12" cy="119.65" r="1.3" fill="#c9c9cd" fill-opacity="0.3"/>
<circle cx="61.44" cy="115.73" r="1.3" fill="#c9c9cd" fill-opacity="0.3"/>
<circle cx="75.64" cy="121.34" r="1.3" fill="#c9c9cd" fill-opacity="0.3"/>
<circle cx="61.32" cy="113.17" r="1.3" fill="#c9c9cd" fill-opacity="0.3"/>
<circle cx="66.84" cy="121.99" r="1.3" fill="#c9c9cd" fill-opacity="0.3"/>
<circle cx="65.52" cy="123.27" r="1.3" fill="#c9c9cd" fill-opacity="0.3"/>
<circle cx="71.26" cy="115.31" r="1.3" fill="#c9c9cd" fill-opacity="0.3"/>
<circle cx="60.12" cy="110.83" r="1.3" fill="#c9c9cd" fill-opacity="0.3"/>
<circle cx="71.52" cy="112.08" r="1.3" fill="#c9c9cd" fill-opacity="0.3"/>
<circle cx="62.79" cy="121.45" r="1.3" fill="#c9c9cd" fill-opacity="0.3"/>
<circle cx="65.43" cy="124.18" r="1.3" fill="#c9c9cd" fill-opacity="0.3"/>
<circle cx="68.07" cy="110.54" r="1.3" fill="#c9c9cd" fill-opacity="0.3"/>
<circle cx="63.13" cy="118.89" r="1.3" fill="#c9c9cd" fill-opacity="0.3"/>
<circle cx="69.38" cy="119.16" r="1.3" fill="#c9c9cd" fill-opacity="0.3"/>
<circle cx="58.34" cy="121.85" r="1.3" fill="#c9c9cd" fill-opacity="0.3"/>
<circle cx="64.12" cy="123.82" r="1.3" fill="#c9c9cd" fill-opacity="0.3"/>
<circle cx="57.99" cy="119.96" r="1.3" fill="#c9c9cd" fill-opacity="0.3"/>
<circle cx="58.00" cy="119.31" r="1.3" fill="#c9c9cd" fill-opacity="0.3"/>
<circle cx="67.94" cy="120.21" r="1.3" fill="#c9c9cd" fill-opacity="0.3"/>
<circle cx="59.91" cy="117.83" r="1.3" fill="#c9c9cd" fill-opacity="0.3"/>
<circle cx="68.78" cy="124.41" r="1.3" fill="#c9c9cd" fill-opacity="0.3"/>
<circle cx="73.86" cy="124.92" r="1.3" fill="#c9c9cd" fill-opacity="0.3"/>
<circle cx="77.58" cy="118.02" r="1.3" fill="#c9c9cd" fill-opacity="0.3"/>
<circle cx="58.54" cy="113.08" r="1.3" fill="#c9c9cd" fill-opacity="0.3"/>
<circle cx="74.04" cy="119.58" r="1.3" fill="#c9c9cd" fill-opacity="0.3"/>
<circle cx="72.28" cy="116.57" r="1.3" fill="#c9c9cd" fill-opacity="0.3"/>
<circle cx="74.29" cy="122.14" r="1.3" fill="#c9c9cd" fill-opacity="0.3"/>
<circle cx="71.51" cy="124.91" r="1.3" fill="#c9c9cd" fill-opacity="0.3"/>
<circle cx="73.86" cy="126.83" r="1.3" fill="#c9c9cd" fill-opacity="0.3"/>
<circle cx="65.16" cy="122.47" r="1.3" fill="#c9c9cd" fill-opacity="0.3"/>
<circle cx="75.30" cy="122.81" r="1.3" fill="#c9c9cd" fill-opacity="0.3"/>
<circle cx="77.99" cy="116.87" r="1.3" fill="#c9c9cd" fill-opacity="0.3"/>
<circle cx="66.02" cy="127.20" r="1.3" fill="#c9c9cd" fill-opacity="0.3"/>
<circle cx="75.72" cy="120.37" r="1.3" fill="#c9c9cd" fill-opacity="0.3"/>
<circle cx="71.30" cy="129.46" r="1.3" fill="#c9c9cd" fill-opacity="0.3"/>
<circle cx="75.07" cy="124.29" r="1.3" fill="#c9c9cd" fill-opacity="0.3"/>
<circle cx="72.55" cy="125.82" r="1.3" fill="#c9c9cd" fill-opacity="0.3"/>
<circle cx="72.99" cy="123.32" r="1.3" fill="#c9c9cd" fill-opacity="0.3"/>
<circle cx="74.36" cy="124.13" r="1.3" fill="#c9c9cd" fill-opacity="0.3"/>
<circle cx="73.14" cy="124.16" r="1.3" fill="#c9c9cd" fill-opacity="0.3"/>
<circle cx="71.67" cy="126.39" r="1.3" fill="#c9c9cd" fill-opacity="0.3"/>
<circle cx="58.38" cy="116.32" r="1.3" fill="#c9c9cd" fill-opacity="0.3"/>
<circle cx="71.09" cy="121.85" r="1.3" fill="#c9c9cd" fill-opacity="0.3"/>
<circle cx="73.97" cy="127.87" r="1.3" fill="#c9c9cd" fill-opacity="0.3"/>
<circle cx="71.18" cy="125.92" r="1.3" fill="#c9c9cd" fill-opacity="0.3"/>
<circle cx="69.77" cy="114.85" r="1.3" fill="#c9c9cd" fill-opacity="0.3"/>
<circle cx="69.56" cy="127.54" r="1.3" fill="#c9c9cd" fill-opacity="0.3"/>
<circle cx="60.27" cy="113.67" r="1.3" fill="#c9c9cd" fill-opacity="0.3"/>
<polygon points="55.5,131.6 55.5,120.0 58.0,119.0 61.0,120.0 64.0,118.6 67.0,119.6 70.0,119.0 72.2,120.5 72.4,131.6" fill="#c8c8cc" stroke="#c8c8cc" stroke-width="0.8" stroke-linejoin="round"/>
<circle cx="129.90" cy="34.40" r="1.2" fill="#e3e3e7" fill-opacity="0.95"/>
<circle cx="137.30" cy="42.60" r="1.2" fill="#e3e3e7" fill-opacity="0.95"/>
<circle cx="113.40" cy="71.80" r="1.2" fill="#e3e3e7" fill-opacity="0.95"/>
<circle cx="85.80" cy="83.90" r="1.2" fill="#e3e3e7" fill-opacity="0.95"/>
<circle cx="91.10" cy="96.60" r="1.2" fill="#e3e3e7" fill-opacity="0.95"/>
<circle cx="79.10" cy="99.80" r="1.2" fill="#e3e3e7" fill-opacity="0.95"/>
<circle cx="82.70" cy="98.90" r="1.2" fill="#e3e3e7" fill-opacity="0.95"/>
<circle cx="80.60" cy="104.60" r="1.2" fill="#e3e3e7" fill-opacity="0.95"/>
<circle cx="58.80" cy="105.30" r="1.2" fill="#e3e3e7" fill-opacity="0.95"/>
<circle cx="88.00" cy="112.70" r="1.2" fill="#e3e3e7" fill-opacity="0.95"/>
<circle cx="91.50" cy="96.30" r="1.2" fill="#e3e3e7" fill-opacity="0.95"/>
<circle cx="71.30" cy="129.50" r="2.3" fill="#d83a48" fill-opacity="0.25"/>
<circle cx="71.30" cy="129.50" r="1.55" fill="#921a24"/>
<circle cx="76.90" cy="128.70" r="2.3" fill="#d83a48" fill-opacity="0.25"/>
<circle cx="76.90" cy="128.70" r="1.55" fill="#921a24"/>
<circle cx="80.40" cy="124.00" r="2.3" fill="#d83a48" fill-opacity="0.25"/>
<circle cx="80.40" cy="124.00" r="1.55" fill="#921a24"/>
<circle cx="84.70" cy="125.40" r="2.3" fill="#d83a48" fill-opacity="0.25"/>
<circle cx="84.70" cy="125.40" r="1.55" fill="#921a24"/>
<line x1="231.20" y1="20.90" x2="231.20" y2="135.80" stroke="#1a1a1a" stroke-width="1.25"/>
<line x1="228.20" y1="130.20" x2="231.20" y2="130.20" stroke="#222" stroke-width="1.3"/>
<text x="224.90" y="133.10" font-size="7.0" text-anchor="end" fill="#3d3d3d" stroke="#3d3d3d" stroke-width="0.15">0<tspan font-size="6.6" >%</tspan></text>
<line x1="228.20" y1="114.25" x2="231.20" y2="114.25" stroke="#222" stroke-width="1.3"/>
<text x="224.90" y="117.15" font-size="7.0" text-anchor="end" fill="#3d3d3d" stroke="#3d3d3d" stroke-width="0.15">10<tspan font-size="6.6" >%</tspan></text>
<line x1="228.20" y1="98.30" x2="231.20" y2="98.30" stroke="#222" stroke-width="1.3"/>
<text x="224.90" y="101.20" font-size="7.0" text-anchor="end" fill="#3d3d3d" stroke="#3d3d3d" stroke-width="0.15">20<tspan font-size="6.6" >%</tspan></text>
<line x1="228.20" y1="82.35" x2="231.20" y2="82.35" stroke="#222" stroke-width="1.3"/>
<text x="224.90" y="85.25" font-size="7.0" text-anchor="end" fill="#3d3d3d" stroke="#3d3d3d" stroke-width="0.15">30<tspan font-size="6.6" >%</tspan></text>
<line x1="228.20" y1="66.40" x2="231.20" y2="66.40" stroke="#222" stroke-width="1.3"/>
<text x="224.90" y="69.30" font-size="7.0" text-anchor="end" fill="#3d3d3d" stroke="#3d3d3d" stroke-width="0.15">40<tspan font-size="6.6" >%</tspan></text>
<line x1="228.20" y1="50.45" x2="231.20" y2="50.45" stroke="#222" stroke-width="1.3"/>
<text x="224.90" y="53.35" font-size="7.0" text-anchor="end" fill="#3d3d3d" stroke="#3d3d3d" stroke-width="0.15">50<tspan font-size="6.6" >%</tspan></text>
<line x1="228.20" y1="34.50" x2="231.20" y2="34.50" stroke="#222" stroke-width="1.3"/>
<text x="224.90" y="37.40" font-size="7.0" text-anchor="end" fill="#3d3d3d" stroke="#3d3d3d" stroke-width="0.15">60<tspan font-size="6.6" >%</tspan></text>
<line x1="230.60" y1="135.20" x2="336.70" y2="135.20" stroke="#1a1a1a" stroke-width="1.25"/>
<line x1="235.60" y1="135.20" x2="235.60" y2="138.20" stroke="#222" stroke-width="1.3"/>
<text x="238.80" y="145.60" font-size="7.0" text-anchor="end" fill="#3d3d3d" stroke="#3d3d3d" stroke-width="0.15" transform="rotate(-45 238.80 145.60)">0<tspan font-size="6.6" >%</tspan></text>
<line x1="250.40" y1="135.20" x2="250.40" y2="138.20" stroke="#222" stroke-width="1.3"/>
<text x="253.60" y="145.60" font-size="7.0" text-anchor="end" fill="#3d3d3d" stroke="#3d3d3d" stroke-width="0.15" transform="rotate(-45 253.60 145.60)">10<tspan font-size="6.6" >%</tspan></text>
<line x1="265.20" y1="135.20" x2="265.20" y2="138.20" stroke="#222" stroke-width="1.3"/>
<text x="268.40" y="145.60" font-size="7.0" text-anchor="end" fill="#3d3d3d" stroke="#3d3d3d" stroke-width="0.15" transform="rotate(-45 268.40 145.60)">20<tspan font-size="6.6" >%</tspan></text>
<line x1="280.00" y1="135.20" x2="280.00" y2="138.20" stroke="#222" stroke-width="1.3"/>
<text x="283.20" y="145.60" font-size="7.0" text-anchor="end" fill="#3d3d3d" stroke="#3d3d3d" stroke-width="0.15" transform="rotate(-45 283.20 145.60)">30<tspan font-size="6.6" >%</tspan></text>
<line x1="294.80" y1="135.20" x2="294.80" y2="138.20" stroke="#222" stroke-width="1.3"/>
<text x="298.00" y="145.60" font-size="7.0" text-anchor="end" fill="#3d3d3d" stroke="#3d3d3d" stroke-width="0.15" transform="rotate(-45 298.00 145.60)">40<tspan font-size="6.6" >%</tspan></text>
<line x1="309.60" y1="135.20" x2="309.60" y2="138.20" stroke="#222" stroke-width="1.3"/>
<text x="312.80" y="145.60" font-size="7.0" text-anchor="end" fill="#3d3d3d" stroke="#3d3d3d" stroke-width="0.15" transform="rotate(-45 312.80 145.60)">50<tspan font-size="6.6" >%</tspan></text>
<line x1="324.40" y1="135.20" x2="324.40" y2="138.20" stroke="#222" stroke-width="1.3"/>
<text x="327.60" y="145.60" font-size="7.0" text-anchor="end" fill="#3d3d3d" stroke="#3d3d3d" stroke-width="0.15" transform="rotate(-45 327.60 145.60)">60<tspan font-size="6.6" >%</tspan></text>
<text x="195.00" y="79.05" font-size="9.0" text-anchor="middle" fill="#2a2a2a" stroke="#2a2a2a" stroke-width="0.25" textLength="46.10" lengthAdjust="spacingAndGlyphs" transform="rotate(-90 195.00 79.05)">Percent mutated</text>
<text x="205.60" y="79.05" font-size="9.0" text-anchor="middle" fill="#2a2a2a" stroke="#2a2a2a" stroke-width="0.25" textLength="67.70" lengthAdjust="spacingAndGlyphs" transform="rotate(-90 205.60 79.05)">FL with POD24 (n = 56)</text>
<text x="285.00" y="166.60" font-size="9.0" text-anchor="middle" fill="#2a2a2a" stroke="#2a2a2a" stroke-width="0.25" textLength="45.90" lengthAdjust="spacingAndGlyphs">Percent mutated</text>
<text x="285.00" y="177.50" font-size="9.0" text-anchor="middle" fill="#2a2a2a" stroke="#2a2a2a" stroke-width="0.25" textLength="77.00" lengthAdjust="spacingAndGlyphs">FL without POD24 (n = 115)</text>
<circle cx="257.13" cy="109.50" r="1.3" fill="#c9c9cd" fill-opacity="0.32"/>
<circle cx="249.11" cy="112.69" r="1.3" fill="#c9c9cd" fill-opacity="0.32"/>
<circle cx="252.12" cy="122.40" r="1.3" fill="#c9c9cd" fill-opacity="0.32"/>
<circle cx="254.00" cy="113.69" r="1.3" fill="#c9c9cd" fill-opacity="0.32"/>
<circle cx="241.56" cy="112.01" r="1.3" fill="#c9c9cd" fill-opacity="0.32"/>
<circle cx="247.92" cy="102.30" r="1.3" fill="#c9c9cd" fill-opacity="0.32"/>
<circle cx="251.05" cy="111.24" r="1.3" fill="#c9c9cd" fill-opacity="0.32"/>
<circle cx="253.15" cy="122.05" r="1.3" fill="#c9c9cd" fill-opacity="0.32"/>
<circle cx="252.59" cy="121.35" r="1.3" fill="#c9c9cd" fill-opacity="0.32"/>
<circle cx="256.27" cy="100.23" r="1.3" fill="#c9c9cd" fill-opacity="0.32"/>
<circle cx="259.06" cy="107.49" r="1.3" fill="#c9c9cd" fill-opacity="0.32"/>
<circle cx="250.34" cy="125.53" r="1.3" fill="#c9c9cd" fill-opacity="0.32"/>
<circle cx="256.48" cy="113.79" r="1.3" fill="#c9c9cd" fill-opacity="0.32"/>
<circle cx="249.48" cy="113.72" r="1.3" fill="#c9c9cd" fill-opacity="0.32"/>
<circle cx="244.21" cy="110.26" r="1.3" fill="#c9c9cd" fill-opacity="0.32"/>
<circle cx="249.89" cy="130.19" r="1.3" fill="#c9c9cd" fill-opacity="0.32"/>
<circle cx="255.08" cy="107.03" r="1.3" fill="#c9c9cd" fill-opacity="0.32"/>
<circle cx="251.19" cy="120.19" r="1.3" fill="#c9c9cd" fill-opacity="0.32"/>
<circle cx="253.68" cy="108.82" r="1.3" fill="#c9c9cd" fill-opacity="0.32"/>
<circle cx="255.47" cy="104.75" r="1.3" fill="#c9c9cd" fill-opacity="0.32"/>
<circle cx="251.09" cy="120.36" r="1.3" fill="#c9c9cd" fill-opacity="0.32"/>
<circle cx="255.35" cy="106.23" r="1.3" fill="#c9c9cd" fill-opacity="0.32"/>
<circle cx="242.26" cy="111.41" r="1.3" fill="#c9c9cd" fill-opacity="0.32"/>
<circle cx="249.60" cy="106.74" r="1.3" fill="#c9c9cd" fill-opacity="0.32"/>
<circle cx="257.75" cy="105.86" r="1.3" fill="#c9c9cd" fill-opacity="0.32"/>
<circle cx="248.56" cy="104.81" r="1.3" fill="#c9c9cd" fill-opacity="0.32"/>
<circle cx="252.67" cy="115.62" r="1.3" fill="#c9c9cd" fill-opacity="0.32"/>
<circle cx="247.54" cy="103.54" r="1.3" fill="#c9c9cd" fill-opacity="0.32"/>
<circle cx="250.95" cy="127.63" r="1.3" fill="#c9c9cd" fill-opacity="0.32"/>
<circle cx="252.68" cy="115.56" r="1.3" fill="#c9c9cd" fill-opacity="0.32"/>
<circle cx="254.79" cy="119.16" r="1.3" fill="#c9c9cd" fill-opacity="0.32"/>
<circle cx="253.13" cy="124.83" r="1.3" fill="#c9c9cd" fill-opacity="0.32"/>
<circle cx="240.26" cy="112.12" r="1.3" fill="#c9c9cd" fill-opacity="0.32"/>
<circle cx="255.39" cy="108.72" r="1.3" fill="#c9c9cd" fill-opacity="0.32"/>
<circle cx="255.99" cy="106.47" r="1.3" fill="#c9c9cd" fill-opacity="0.32"/>
<circle cx="252.92" cy="117.25" r="1.3" fill="#c9c9cd" fill-opacity="0.32"/>
<circle cx="252.22" cy="106.78" r="1.3" fill="#c9c9cd" fill-opacity="0.32"/>
<circle cx="251.75" cy="128.13" r="1.3" fill="#c9c9cd" fill-opacity="0.32"/>
<circle cx="256.06" cy="109.00" r="1.3" fill="#c9c9cd" fill-opacity="0.32"/>
<circle cx="248.08" cy="105.39" r="1.3" fill="#c9c9cd" fill-opacity="0.32"/>
<circle cx="254.10" cy="123.88" r="1.3" fill="#c9c9cd" fill-opacity="0.32"/>
<circle cx="252.28" cy="108.00" r="1.3" fill="#c9c9cd" fill-opacity="0.32"/>
<circle cx="254.62" cy="103.19" r="1.3" fill="#c9c9cd" fill-opacity="0.32"/>
<circle cx="245.13" cy="107.01" r="1.3" fill="#c9c9cd" fill-opacity="0.32"/>
<circle cx="257.51" cy="109.38" r="1.3" fill="#c9c9cd" fill-opacity="0.32"/>
<circle cx="254.87" cy="110.03" r="1.3" fill="#c9c9cd" fill-opacity="0.32"/>
<circle cx="243.38" cy="110.82" r="1.3" fill="#c9c9cd" fill-opacity="0.32"/>
<circle cx="252.26" cy="127.66" r="1.3" fill="#c9c9cd" fill-opacity="0.32"/>
<circle cx="254.86" cy="120.86" r="1.3" fill="#c9c9cd" fill-opacity="0.32"/>
<circle cx="245.17" cy="107.05" r="1.3" fill="#c9c9cd" fill-opacity="0.32"/>
<circle cx="254.22" cy="112.87" r="1.3" fill="#c9c9cd" fill-opacity="0.32"/>
<circle cx="259.18" cy="105.70" r="1.3" fill="#c9c9cd" fill-opacity="0.32"/>
<circle cx="249.32" cy="114.13" r="1.3" fill="#c9c9cd" fill-opacity="0.32"/>
<circle cx="254.96" cy="106.66" r="1.3" fill="#c9c9cd" fill-opacity="0.32"/>
<circle cx="254.30" cy="123.20" r="1.3" fill="#c9c9cd" fill-opacity="0.32"/>
<circle cx="251.84" cy="108.79" r="1.3" fill="#c9c9cd" fill-opacity="0.32"/>
<circle cx="259.09" cy="111.97" r="1.3" fill="#c9c9cd" fill-opacity="0.32"/>
<circle cx="251.16" cy="120.88" r="1.3" fill="#c9c9cd" fill-opacity="0.32"/>
<circle cx="249.93" cy="107.91" r="1.3" fill="#c9c9cd" fill-opacity="0.32"/>
<circle cx="250.22" cy="128.78" r="1.3" fill="#c9c9cd" fill-opacity="0.32"/>
<circle cx="251.33" cy="130.55" r="1.3" fill="#c9c9cd" fill-opacity="0.32"/>
<circle cx="254.00" cy="119.35" r="1.3" fill="#c9c9cd" fill-opacity="0.32"/>
<circle cx="255.98" cy="117.59" r="1.3" fill="#c9c9cd" fill-opacity="0.32"/>
<circle cx="253.37" cy="123.05" r="1.3" fill="#c9c9cd" fill-opacity="0.32"/>
<circle cx="250.30" cy="112.09" r="1.3" fill="#c9c9cd" fill-opacity="0.32"/>
<circle cx="255.29" cy="118.04" r="1.3" fill="#c9c9cd" fill-opacity="0.32"/>
<circle cx="250.51" cy="129.63" r="1.3" fill="#c9c9cd" fill-opacity="0.32"/>
<circle cx="250.04" cy="126.86" r="1.3" fill="#c9c9cd" fill-opacity="0.32"/>
<circle cx="251.12" cy="124.87" r="1.3" fill="#c9c9cd" fill-opacity="0.32"/>
<circle cx="251.50" cy="104.84" r="1.3" fill="#c9c9cd" fill-opacity="0.32"/>
<circle cx="252.57" cy="112.68" r="1.3" fill="#c9c9cd" fill-opacity="0.32"/>
<circle cx="254.20" cy="115.49" r="1.3" fill="#c9c9cd" fill-opacity="0.32"/>
<circle cx="242.35" cy="111.87" r="1.3" fill="#c9c9cd" fill-opacity="0.32"/>
<circle cx="247.34" cy="104.03" r="1.3" fill="#c9c9cd" fill-opacity="0.32"/>
<circle cx="250.03" cy="131.00" r="1.3" fill="#c9c9cd" fill-opacity="0.32"/>
<circle cx="256.55" cy="114.29" r="1.3" fill="#c9c9cd" fill-opacity="0.32"/>
<circle cx="250.99" cy="122.35" r="1.3" fill="#c9c9cd" fill-opacity="0.32"/>
<circle cx="248.59" cy="109.90" r="1.3" fill="#c9c9cd" fill-opacity="0.32"/>
<circle cx="253.89" cy="124.23" r="1.3" fill="#c9c9cd" fill-opacity="0.32"/>
<circle cx="245.59" cy="108.90" r="1.3" fill="#c9c9cd" fill-opacity="0.32"/>
<circle cx="253.23" cy="119.52" r="1.3" fill="#c9c9cd" fill-opacity="0.32"/>
<circle cx="242.50" cy="109.88" r="1.3" fill="#c9c9cd" fill-opacity="0.32"/>
<circle cx="257.82" cy="113.19" r="1.3" fill="#c9c9cd" fill-opacity="0.32"/>
<circle cx="258.38" cy="112.80" r="1.3" fill="#c9c9cd" fill-opacity="0.32"/>
<circle cx="255.55" cy="111.10" r="1.3" fill="#c9c9cd" fill-opacity="0.32"/>
<circle cx="258.67" cy="113.20" r="1.3" fill="#c9c9cd" fill-opacity="0.32"/>
<circle cx="251.29" cy="107.25" r="1.3" fill="#c9c9cd" fill-opacity="0.32"/>
<circle cx="246.36" cy="111.25" r="1.3" fill="#c9c9cd" fill-opacity="0.32"/>
<circle cx="253.31" cy="119.17" r="1.3" fill="#c9c9cd" fill-opacity="0.32"/>
<circle cx="250.79" cy="109.40" r="1.3" fill="#c9c9cd" fill-opacity="0.32"/>
<circle cx="251.09" cy="111.18" r="1.3" fill="#c9c9cd" fill-opacity="0.32"/>
<circle cx="248.08" cy="105.86" r="1.3" fill="#c9c9cd" fill-opacity="0.32"/>
<circle cx="258.06" cy="110.56" r="1.3" fill="#c9c9cd" fill-opacity="0.32"/>
<circle cx="251.76" cy="117.20" r="1.3" fill="#c9c9cd" fill-opacity="0.32"/>
<circle cx="252.90" cy="120.47" r="1.3" fill="#c9c9cd" fill-opacity="0.32"/>
<circle cx="251.80" cy="124.19" r="1.3" fill="#c9c9cd" fill-opacity="0.32"/>
<circle cx="250.60" cy="123.33" r="1.3" fill="#c9c9cd" fill-opacity="0.32"/>
<circle cx="251.70" cy="126.84" r="1.3" fill="#c9c9cd" fill-opacity="0.32"/>
<circle cx="258.02" cy="110.53" r="1.3" fill="#c9c9cd" fill-opacity="0.32"/>
<circle cx="251.44" cy="119.22" r="1.3" fill="#c9c9cd" fill-opacity="0.32"/>
<circle cx="257.80" cy="111.53" r="1.3" fill="#c9c9cd" fill-opacity="0.32"/>
<circle cx="259.32" cy="105.44" r="1.3" fill="#c9c9cd" fill-opacity="0.32"/>
<circle cx="255.42" cy="117.41" r="1.3" fill="#c9c9cd" fill-opacity="0.32"/>
<circle cx="259.35" cy="111.68" r="1.3" fill="#c9c9cd" fill-opacity="0.32"/>
<circle cx="256.94" cy="114.37" r="1.3" fill="#c9c9cd" fill-opacity="0.32"/>
<circle cx="252.86" cy="117.08" r="1.3" fill="#c9c9cd" fill-opacity="0.32"/>
<circle cx="254.10" cy="122.52" r="1.3" fill="#c9c9cd" fill-opacity="0.32"/>
<circle cx="252.42" cy="120.21" r="1.3" fill="#c9c9cd" fill-opacity="0.32"/>
<circle cx="251.33" cy="109.88" r="1.3" fill="#c9c9cd" fill-opacity="0.32"/>
<circle cx="249.03" cy="112.40" r="1.3" fill="#c9c9cd" fill-opacity="0.32"/>
<polygon points="234.8,131.3 234.8,121.5 237.0,119.0 239.5,115.0 242.0,112.0 245.0,111.0 248.0,112.0 250.0,115.5 250.5,122.0 249.5,131.3" fill="#c8c8cc" stroke="#c8c8cc" stroke-width="0.8" stroke-linejoin="round"/>
<circle cx="314.00" cy="30.50" r="1.2" fill="#e3e3e7" fill-opacity="0.95"/>
<circle cx="327.00" cy="37.00" r="1.2" fill="#e3e3e7" fill-opacity="0.95"/>
<circle cx="295.00" cy="78.50" r="1.2" fill="#e3e3e7" fill-opacity="0.95"/>
<circle cx="280.00" cy="84.00" r="1.2" fill="#e3e3e7" fill-opacity="0.95"/>
<circle cx="262.50" cy="86.00" r="1.2" fill="#e3e3e7" fill-opacity="0.95"/>
<circle cx="262.30" cy="85.80" r="1.2" fill="#e3e3e7" fill-opacity="0.95"/>
<circle cx="279.60" cy="84.00" r="1.2" fill="#e3e3e7" fill-opacity="0.95"/>
<circle cx="253.00" cy="101.30" r="1.2" fill="#e3e3e7" fill-opacity="0.95"/>
<circle cx="257.70" cy="101.30" r="1.2" fill="#e3e3e7" fill-opacity="0.95"/>
<circle cx="266.30" cy="101.30" r="1.2" fill="#e3e3e7" fill-opacity="0.95"/>
<circle cx="267.50" cy="104.80" r="1.2" fill="#e3e3e7" fill-opacity="0.95"/>
<circle cx="238.30" cy="108.90" r="2.3" fill="#d83a48" fill-opacity="0.25"/>
<circle cx="238.30" cy="108.90" r="1.55" fill="#921a24"/>
<circle cx="237.80" cy="112.90" r="2.3" fill="#d83a48" fill-opacity="0.25"/>
<circle cx="237.80" cy="112.90" r="1.55" fill="#921a24"/>
<circle cx="269.60" cy="128.20" r="2.3" fill="#d83a48" fill-opacity="0.25"/>
<circle cx="269.60" cy="128.20" r="1.55" fill="#921a24"/>
<line x1="397.60" y1="20.60" x2="397.60" y2="135.80" stroke="#1a1a1a" stroke-width="1.25"/>
<line x1="394.60" y1="130.20" x2="397.60" y2="130.20" stroke="#222" stroke-width="1.3"/>
<text x="391.00" y="133.10" font-size="7.0" text-anchor="end" fill="#3d3d3d" stroke="#3d3d3d" stroke-width="0.15">0<tspan font-size="6.6" >%</tspan></text>
<line x1="394.60" y1="114.25" x2="397.60" y2="114.25" stroke="#222" stroke-width="1.3"/>
<text x="391.00" y="117.15" font-size="7.0" text-anchor="end" fill="#3d3d3d" stroke="#3d3d3d" stroke-width="0.15">10<tspan font-size="6.6" >%</tspan></text>
<line x1="394.60" y1="98.30" x2="397.60" y2="98.30" stroke="#222" stroke-width="1.3"/>
<text x="391.00" y="101.20" font-size="7.0" text-anchor="end" fill="#3d3d3d" stroke="#3d3d3d" stroke-width="0.15">20<tspan font-size="6.6" >%</tspan></text>
<line x1="394.60" y1="82.35" x2="397.60" y2="82.35" stroke="#222" stroke-width="1.3"/>
<text x="391.00" y="85.25" font-size="7.0" text-anchor="end" fill="#3d3d3d" stroke="#3d3d3d" stroke-width="0.15">30<tspan font-size="6.6" >%</tspan></text>
<line x1="394.60" y1="66.40" x2="397.60" y2="66.40" stroke="#222" stroke-width="1.3"/>
<text x="391.00" y="69.30" font-size="7.0" text-anchor="end" fill="#3d3d3d" stroke="#3d3d3d" stroke-width="0.15">40<tspan font-size="6.6" >%</tspan></text>
<line x1="394.60" y1="50.45" x2="397.60" y2="50.45" stroke="#222" stroke-width="1.3"/>
<text x="391.00" y="53.35" font-size="7.0" text-anchor="end" fill="#3d3d3d" stroke="#3d3d3d" stroke-width="0.15">50<tspan font-size="6.6" >%</tspan></text>
<line x1="394.60" y1="34.50" x2="397.60" y2="34.50" stroke="#222" stroke-width="1.3"/>
<text x="391.00" y="37.40" font-size="7.0" text-anchor="end" fill="#3d3d3d" stroke="#3d3d3d" stroke-width="0.15">60<tspan font-size="6.6" >%</tspan></text>
<line x1="397.00" y1="135.20" x2="502.90" y2="135.20" stroke="#1a1a1a" stroke-width="1.25"/>
<line x1="402.00" y1="135.20" x2="402.00" y2="138.20" stroke="#222" stroke-width="1.3"/>
<text x="405.20" y="145.60" font-size="7.0" text-anchor="end" fill="#3d3d3d" stroke="#3d3d3d" stroke-width="0.15" transform="rotate(-45 405.20 145.60)">0<tspan font-size="6.6" >%</tspan></text>
<line x1="416.80" y1="135.20" x2="416.80" y2="138.20" stroke="#222" stroke-width="1.3"/>
<text x="420.00" y="145.60" font-size="7.0" text-anchor="end" fill="#3d3d3d" stroke="#3d3d3d" stroke-width="0.15" transform="rotate(-45 420.00 145.60)">10<tspan font-size="6.6" >%</tspan></text>
<line x1="431.60" y1="135.20" x2="431.60" y2="138.20" stroke="#222" stroke-width="1.3"/>
<text x="434.80" y="145.60" font-size="7.0" text-anchor="end" fill="#3d3d3d" stroke="#3d3d3d" stroke-width="0.15" transform="rotate(-45 434.80 145.60)">20<tspan font-size="6.6" >%</tspan></text>
<line x1="446.40" y1="135.20" x2="446.40" y2="138.20" stroke="#222" stroke-width="1.3"/>
<text x="449.60" y="145.60" font-size="7.0" text-anchor="end" fill="#3d3d3d" stroke="#3d3d3d" stroke-width="0.15" transform="rotate(-45 449.60 145.60)">30<tspan font-size="6.6" >%</tspan></text>
<line x1="461.20" y1="135.20" x2="461.20" y2="138.20" stroke="#222" stroke-width="1.3"/>
<text x="464.40" y="145.60" font-size="7.0" text-anchor="end" fill="#3d3d3d" stroke="#3d3d3d" stroke-width="0.15" transform="rotate(-45 464.40 145.60)">40<tspan font-size="6.6" >%</tspan></text>
<line x1="476.00" y1="135.20" x2="476.00" y2="138.20" stroke="#222" stroke-width="1.3"/>
<text x="479.20" y="145.60" font-size="7.0" text-anchor="end" fill="#3d3d3d" stroke="#3d3d3d" stroke-width="0.15" transform="rotate(-45 479.20 145.60)">50<tspan font-size="6.6" >%</tspan></text>
<line x1="490.80" y1="135.20" x2="490.80" y2="138.20" stroke="#222" stroke-width="1.3"/>
<text x="494.00" y="145.60" font-size="7.0" text-anchor="end" fill="#3d3d3d" stroke="#3d3d3d" stroke-width="0.15" transform="rotate(-45 494.00 145.60)">60<tspan font-size="6.6" >%</tspan></text>
<text x="372.30" y="78.70" font-size="9.0" text-anchor="middle" fill="#2a2a2a" stroke="#2a2a2a" stroke-width="0.25" textLength="101.50" lengthAdjust="spacingAndGlyphs" transform="rotate(-90 372.30 78.70)">Percent mutated Rel/ref FL (n = 52)</text>
<text x="451.00" y="166.60" font-size="9.0" text-anchor="middle" fill="#2a2a2a" stroke="#2a2a2a" stroke-width="0.25" textLength="45.90" lengthAdjust="spacingAndGlyphs">Percent mutated</text>
<text x="450.30" y="177.50" font-size="9.0" text-anchor="middle" fill="#2a2a2a" stroke="#2a2a2a" stroke-width="0.25" textLength="46.50" lengthAdjust="spacingAndGlyphs">Dx FL (n = 231)</text>
<circle cx="413.19" cy="114.47" r="1.3" fill="#c9c9cd" fill-opacity="0.32"/>
<circle cx="414.78" cy="127.54" r="1.3" fill="#c9c9cd" fill-opacity="0.32"/>
<circle cx="414.57" cy="124.23" r="1.3" fill="#c9c9cd" fill-opacity="0.32"/>
<circle cx="407.66" cy="116.97" r="1.3" fill="#c9c9cd" fill-opacity="0.32"/>
<circle cx="417.46" cy="113.90" r="1.3" fill="#c9c9cd" fill-opacity="0.32"/>
<circle cx="414.66" cy="128.79" r="1.3" fill="#c9c9cd" fill-opacity="0.32"/>
<circle cx="418.07" cy="122.67" r="1.3" fill="#c9c9cd" fill-opacity="0.32"/>
<circle cx="407.04" cy="115.61" r="1.3" fill="#c9c9cd" fill-opacity="0.32"/>
<circle cx="424.72" cy="104.49" r="1.3" fill="#c9c9cd" fill-opacity="0.32"/>
<circle cx="410.67" cy="116.31" r="1.3" fill="#c9c9cd" fill-opacity="0.32"/>
<circle cx="416.09" cy="122.94" r="1.3" fill="#c9c9cd" fill-opacity="0.32"/>
<circle cx="413.89" cy="128.10" r="1.3" fill="#c9c9cd" fill-opacity="0.32"/>
<circle cx="419.54" cy="125.63" r="1.3" fill="#c9c9cd" fill-opacity="0.32"/>
<circle cx="410.22" cy="119.86" r="1.3" fill="#c9c9cd" fill-opacity="0.32"/>
<circle cx="415.10" cy="122.76" r="1.3" fill="#c9c9cd" fill-opacity="0.32"/>
<circle cx="419.59" cy="121.98" r="1.3" fill="#c9c9cd" fill-opacity="0.32"/>
<circle cx="421.77" cy="120.88" r="1.3" fill="#c9c9cd" fill-opacity="0.32"/>
<circle cx="417.67" cy="116.86" r="1.3" fill="#c9c9cd" fill-opacity="0.32"/>
<circle cx="409.78" cy="123.63" r="1.3" fill="#c9c9cd" fill-opacity="0.32"/>
<circle cx="410.42" cy="124.97" r="1.3" fill="#c9c9cd" fill-opacity="0.32"/>
<circle cx="409.09" cy="111.53" r="1.3" fill="#c9c9cd" fill-opacity="0.32"/>
<circle cx="404.29" cy="114.48" r="1.3" fill="#c9c9cd" fill-opacity="0.32"/>
<circle cx="421.03" cy="118.84" r="1.3" fill="#c9c9cd" fill-opacity="0.32"/>
<circle cx="421.06" cy="125.63" r="1.3" fill="#c9c9cd" fill-opacity="0.32"/>
<circle cx="417.19" cy="125.72" r="1.3" fill="#c9c9cd" fill-opacity="0.32"/>
<circle cx="422.70" cy="120.22" r="1.3" fill="#c9c9cd" fill-opacity="0.32"/>
<circle cx="415.08" cy="124.14" r="1.3" fill="#c9c9cd" fill-opacity="0.32"/>
<circle cx="414.69" cy="125.13" r="1.3" fill="#c9c9cd" fill-opacity="0.32"/>
<circle cx="405.82" cy="114.99" r="1.3" fill="#c9c9cd" fill-opacity="0.32"/>
<circle cx="413.93" cy="126.82" r="1.3" fill="#c9c9cd" fill-opacity="0.32"/>
<circle cx="418.07" cy="108.59" r="1.3" fill="#c9c9cd" fill-opacity="0.32"/>
<circle cx="414.15" cy="126.43" r="1.3" fill="#c9c9cd" fill-opacity="0.32"/>
<circle cx="410.28" cy="120.00" r="1.3" fill="#c9c9cd" fill-opacity="0.32"/>
<circle cx="423.21" cy="119.33" r="1.3" fill="#c9c9cd" fill-opacity="0.32"/>
<circle cx="417.85" cy="112.79" r="1.3" fill="#c9c9cd" fill-opacity="0.32"/>
<circle cx="422.27" cy="119.87" r="1.3" fill="#c9c9cd" fill-opacity="0.32"/>
<circle cx="417.03" cy="129.16" r="1.3" fill="#c9c9cd" fill-opacity="0.32"/>
<circle cx="415.47" cy="120.40" r="1.3" fill="#c9c9cd" fill-opacity="0.32"/>
<circle cx="409.43" cy="122.50" r="1.3" fill="#c9c9cd" fill-opacity="0.32"/>
<circle cx="409.93" cy="116.88" r="1.3" fill="#c9c9cd" fill-opacity="0.32"/>
<circle cx="412.31" cy="125.44" r="1.3" fill="#c9c9cd" fill-opacity="0.32"/>
<circle cx="423.45" cy="108.33" r="1.3" fill="#c9c9cd" fill-opacity="0.32"/>
<circle cx="417.60" cy="109.71" r="1.3" fill="#c9c9cd" fill-opacity="0.32"/>
<circle cx="422.39" cy="110.63" r="1.3" fill="#c9c9cd" fill-opacity="0.32"/>
<circle cx="410.76" cy="124.49" r="1.3" fill="#c9c9cd" fill-opacity="0.32"/>
<circle cx="423.57" cy="106.26" r="1.3" fill="#c9c9cd" fill-opacity="0.32"/>
<circle cx="412.38" cy="127.72" r="1.3" fill="#c9c9cd" fill-opacity="0.32"/>
<circle cx="419.93" cy="127.53" r="1.3" fill="#c9c9cd" fill-opacity="0.32"/>
<circle cx="407.05" cy="112.97" r="1.3" fill="#c9c9cd" fill-opacity="0.32"/>
<circle cx="410.77" cy="123.53" r="1.3" fill="#c9c9cd" fill-opacity="0.32"/>
<circle cx="419.32" cy="115.82" r="1.3" fill="#c9c9cd" fill-opacity="0.32"/>
<circle cx="417.60" cy="127.20" r="1.3" fill="#c9c9cd" fill-opacity="0.32"/>
<circle cx="415.24" cy="128.68" r="1.3" fill="#c9c9cd" fill-opacity="0.32"/>
<circle cx="412.98" cy="126.20" r="1.3" fill="#c9c9cd" fill-opacity="0.32"/>
<circle cx="422.06" cy="115.46" r="1.3" fill="#c9c9cd" fill-opacity="0.32"/>
<circle cx="412.77" cy="104.70" r="1.3" fill="#c9c9cd" fill-opacity="0.32"/>
<circle cx="416.45" cy="118.88" r="1.3" fill="#c9c9cd" fill-opacity="0.32"/>
<circle cx="418.18" cy="117.67" r="1.3" fill="#c9c9cd" fill-opacity="0.32"/>
<circle cx="414.71" cy="130.68" r="1.3" fill="#c9c9cd" fill-opacity="0.32"/>
<circle cx="416.90" cy="117.38" r="1.3" fill="#c9c9cd" fill-opacity="0.32"/>
<circle cx="413.13" cy="128.89" r="1.3" fill="#c9c9cd" fill-opacity="0.32"/>
<circle cx="419.70" cy="108.19" r="1.3" fill="#c9c9cd" fill-opacity="0.32"/>
<circle cx="412.34" cy="125.54" r="1.3" fill="#c9c9cd" fill-opacity="0.32"/>
<circle cx="416.78" cy="120.53" r="1.3" fill="#c9c9cd" fill-opacity="0.32"/>
<circle cx="409.58" cy="122.49" r="1.3" fill="#c9c9cd" fill-opacity="0.32"/>
<circle cx="413.32" cy="124.44" r="1.3" fill="#c9c9cd" fill-opacity="0.32"/>
<circle cx="422.14" cy="116.08" r="1.3" fill="#c9c9cd" fill-opacity="0.32"/>
<circle cx="422.34" cy="120.47" r="1.3" fill="#c9c9cd" fill-opacity="0.32"/>
<circle cx="421.59" cy="121.43" r="1.3" fill="#c9c9cd" fill-opacity="0.32"/>
<circle cx="408.75" cy="110.76" r="1.3" fill="#c9c9cd" fill-opacity="0.32"/>
<circle cx="410.80" cy="123.85" r="1.3" fill="#c9c9cd" fill-opacity="0.32"/>
<circle cx="410.54" cy="107.82" r="1.3" fill="#c9c9cd" fill-opacity="0.32"/>
<circle cx="412.81" cy="105.06" r="1.3" fill="#c9c9cd" fill-opacity="0.32"/>
<circle cx="410.00" cy="118.73" r="1.3" fill="#c9c9cd" fill-opacity="0.32"/>
<circle cx="422.99" cy="118.24" r="1.3" fill="#c9c9cd" fill-opacity="0.32"/>
<circle cx="408.62" cy="120.17" r="1.3" fill="#c9c9cd" fill-opacity="0.32"/>
<circle cx="407.57" cy="117.24" r="1.3" fill="#c9c9cd" fill-opacity="0.32"/>
<circle cx="421.98" cy="119.40" r="1.3" fill="#c9c9cd" fill-opacity="0.32"/>
<circle cx="413.85" cy="123.87" r="1.3" fill="#c9c9cd" fill-opacity="0.32"/>
<circle cx="415.32" cy="125.71" r="1.3" fill="#c9c9cd" fill-opacity="0.32"/>
<circle cx="414.20" cy="130.53" r="1.3" fill="#c9c9cd" fill-opacity="0.32"/>
<circle cx="421.46" cy="119.56" r="1.3" fill="#c9c9cd" fill-opacity="0.32"/>
<circle cx="423.55" cy="109.70" r="1.3" fill="#c9c9cd" fill-opacity="0.32"/>
<circle cx="426.16" cy="109.56" r="1.3" fill="#c9c9cd" fill-opacity="0.32"/>
<circle cx="419.96" cy="118.87" r="1.3" fill="#c9c9cd" fill-opacity="0.32"/>
<circle cx="413.92" cy="129.71" r="1.3" fill="#c9c9cd" fill-opacity="0.32"/>
<circle cx="415.83" cy="116.14" r="1.3" fill="#c9c9cd" fill-opacity="0.32"/>
<circle cx="416.29" cy="125.40" r="1.3" fill="#c9c9cd" fill-opacity="0.32"/>
<circle cx="425.03" cy="114.01" r="1.3" fill="#c9c9cd" fill-opacity="0.32"/>
<circle cx="417.68" cy="128.02" r="1.3" fill="#c9c9cd" fill-opacity="0.32"/>
<circle cx="416.30" cy="130.97" r="1.3" fill="#c9c9cd" fill-opacity="0.32"/>
<circle cx="406.98" cy="113.96" r="1.3" fill="#c9c9cd" fill-opacity="0.32"/>
<circle cx="420.74" cy="123.25" r="1.3" fill="#c9c9cd" fill-opacity="0.32"/>
<circle cx="411.24" cy="123.23" r="1.3" fill="#c9c9cd" fill-opacity="0.32"/>
<circle cx="419.56" cy="121.05" r="1.3" fill="#c9c9cd" fill-opacity="0.32"/>
<circle cx="415.85" cy="124.05" r="1.3" fill="#c9c9cd" fill-opacity="0.32"/>
<circle cx="407.10" cy="114.19" r="1.3" fill="#c9c9cd" fill-opacity="0.32"/>
<circle cx="414.37" cy="118.22" r="1.3" fill="#c9c9cd" fill-opacity="0.32"/>
<circle cx="413.39" cy="114.22" r="1.3" fill="#c9c9cd" fill-opacity="0.32"/>
<circle cx="421.32" cy="113.28" r="1.3" fill="#c9c9cd" fill-opacity="0.32"/>
<circle cx="418.20" cy="112.44" r="1.3" fill="#c9c9cd" fill-opacity="0.32"/>
<circle cx="410.86" cy="115.36" r="1.3" fill="#c9c9cd" fill-opacity="0.32"/>
<circle cx="423.12" cy="115.50" r="1.3" fill="#c9c9cd" fill-opacity="0.32"/>
<circle cx="412.22" cy="118.57" r="1.3" fill="#c9c9cd" fill-opacity="0.32"/>
<circle cx="414.55" cy="125.74" r="1.3" fill="#c9c9cd" fill-opacity="0.32"/>
<circle cx="419.32" cy="111.71" r="1.3" fill="#c9c9cd" fill-opacity="0.32"/>
<circle cx="406.98" cy="118.20" r="1.3" fill="#c9c9cd" fill-opacity="0.32"/>
<circle cx="410.62" cy="124.81" r="1.3" fill="#c9c9cd" fill-opacity="0.32"/>
<circle cx="409.13" cy="111.40" r="1.3" fill="#c9c9cd" fill-opacity="0.32"/>
<circle cx="422.23" cy="113.53" r="1.3" fill="#c9c9cd" fill-opacity="0.32"/>
<circle cx="414.21" cy="128.95" r="1.3" fill="#c9c9cd" fill-opacity="0.32"/>
<circle cx="413.15" cy="109.59" r="1.3" fill="#c9c9cd" fill-opacity="0.32"/>
<circle cx="415.06" cy="117.19" r="1.3" fill="#c9c9cd" fill-opacity="0.32"/>
<circle cx="411.84" cy="108.91" r="1.3" fill="#c9c9cd" fill-opacity="0.32"/>
<circle cx="419.69" cy="104.88" r="1.3" fill="#c9c9cd" fill-opacity="0.32"/>
<circle cx="420.36" cy="109.91" r="1.3" fill="#c9c9cd" fill-opacity="0.32"/>
<circle cx="418.70" cy="111.93" r="1.3" fill="#c9c9cd" fill-opacity="0.32"/>
<circle cx="414.46" cy="129.24" r="1.3" fill="#c9c9cd" fill-opacity="0.32"/>
<circle cx="407.95" cy="120.26" r="1.3" fill="#c9c9cd" fill-opacity="0.32"/>
<circle cx="420.47" cy="125.16" r="1.3" fill="#c9c9cd" fill-opacity="0.32"/>
<circle cx="416.86" cy="124.97" r="1.3" fill="#c9c9cd" fill-opacity="0.32"/>
<circle cx="420.64" cy="112.57" r="1.3" fill="#c9c9cd" fill-opacity="0.32"/>
<circle cx="423.49" cy="111.62" r="1.3" fill="#c9c9cd" fill-opacity="0.32"/>
<circle cx="412.48" cy="122.16" r="1.3" fill="#c9c9cd" fill-opacity="0.32"/>
<circle cx="423.22" cy="110.59" r="1.3" fill="#c9c9cd" fill-opacity="0.32"/>
<circle cx="423.44" cy="117.26" r="1.3" fill="#c9c9cd" fill-opacity="0.32"/>
<circle cx="412.73" cy="127.77" r="1.3" fill="#c9c9cd" fill-opacity="0.32"/>
<circle cx="416.70" cy="130.12" r="1.3" fill="#c9c9cd" fill-opacity="0.32"/>
<circle cx="421.13" cy="126.04" r="1.3" fill="#c9c9cd" fill-opacity="0.32"/>
<circle cx="417.41" cy="114.74" r="1.3" fill="#c9c9cd" fill-opacity="0.32"/>
<circle cx="420.17" cy="118.22" r="1.3" fill="#c9c9cd" fill-opacity="0.32"/>
<circle cx="411.20" cy="123.40" r="1.3" fill="#c9c9cd" fill-opacity="0.32"/>
<circle cx="421.14" cy="115.54" r="1.3" fill="#c9c9cd" fill-opacity="0.32"/>
<circle cx="418.15" cy="126.10" r="1.3" fill="#c9c9cd" fill-opacity="0.32"/>
<circle cx="410.33" cy="118.21" r="1.3" fill="#c9c9cd" fill-opacity="0.32"/>
<circle cx="409.68" cy="122.61" r="1.3" fill="#c9c9cd" fill-opacity="0.32"/>
<circle cx="420.72" cy="111.88" r="1.3" fill="#c9c9cd" fill-opacity="0.32"/>
<circle cx="416.44" cy="130.74" r="1.3" fill="#c9c9cd" fill-opacity="0.32"/>
<circle cx="420.07" cy="126.62" r="1.3" fill="#c9c9cd" fill-opacity="0.32"/>
<circle cx="417.41" cy="126.79" r="1.3" fill="#c9c9cd" fill-opacity="0.32"/>
<circle cx="418.19" cy="114.29" r="1.3" fill="#c9c9cd" fill-opacity="0.32"/>
<circle cx="425.16" cy="106.70" r="1.3" fill="#c9c9cd" fill-opacity="0.32"/>
<circle cx="422.10" cy="119.35" r="1.3" fill="#c9c9cd" fill-opacity="0.32"/>
<circle cx="404.44" cy="114.36" r="1.3" fill="#c9c9cd" fill-opacity="0.32"/>
<circle cx="418.11" cy="130.72" r="1.3" fill="#c9c9cd" fill-opacity="0.32"/>
<circle cx="411.78" cy="125.23" r="1.3" fill="#c9c9cd" fill-opacity="0.32"/>
<circle cx="420.08" cy="112.54" r="1.3" fill="#c9c9cd" fill-opacity="0.32"/>
<circle cx="418.68" cy="124.10" r="1.3" fill="#c9c9cd" fill-opacity="0.32"/>
<circle cx="415.34" cy="121.93" r="1.3" fill="#c9c9cd" fill-opacity="0.32"/>
<circle cx="417.36" cy="111.29" r="1.3" fill="#c9c9cd" fill-opacity="0.32"/>
<circle cx="419.13" cy="123.51" r="1.3" fill="#c9c9cd" fill-opacity="0.32"/>
<circle cx="415.44" cy="123.70" r="1.3" fill="#c9c9cd" fill-opacity="0.32"/>
<circle cx="416.58" cy="114.05" r="1.3" fill="#c9c9cd" fill-opacity="0.32"/>
<circle cx="421.66" cy="122.36" r="1.3" fill="#c9c9cd" fill-opacity="0.32"/>
<circle cx="419.14" cy="110.82" r="1.3" fill="#c9c9cd" fill-opacity="0.32"/>
<circle cx="412.17" cy="111.90" r="1.3" fill="#c9c9cd" fill-opacity="0.32"/>
<circle cx="404.10" cy="113.94" r="1.3" fill="#c9c9cd" fill-opacity="0.32"/>
<circle cx="421.42" cy="125.62" r="1.3" fill="#c9c9cd" fill-opacity="0.32"/>
<circle cx="423.00" cy="105.10" r="1.3" fill="#c9c9cd" fill-opacity="0.32"/>
<circle cx="406.89" cy="111.18" r="1.3" fill="#c9c9cd" fill-opacity="0.32"/>
<circle cx="405.45" cy="114.46" r="1.3" fill="#c9c9cd" fill-opacity="0.32"/>
<circle cx="416.48" cy="124.36" r="1.3" fill="#c9c9cd" fill-opacity="0.32"/>
<circle cx="413.92" cy="123.68" r="1.3" fill="#c9c9cd" fill-opacity="0.32"/>
<circle cx="421.69" cy="118.58" r="1.3" fill="#c9c9cd" fill-opacity="0.32"/>
<circle cx="417.61" cy="103.79" r="1.3" fill="#c9c9cd" fill-opacity="0.32"/>
<circle cx="421.20" cy="123.29" r="1.3" fill="#c9c9cd" fill-opacity="0.32"/>
<circle cx="413.47" cy="109.52" r="1.3" fill="#c9c9cd" fill-opacity="0.32"/>
<circle cx="415.56" cy="128.61" r="1.3" fill="#c9c9cd" fill-opacity="0.32"/>
<circle cx="423.02" cy="105.28" r="1.3" fill="#c9c9cd" fill-opacity="0.32"/>
<circle cx="409.33" cy="121.11" r="1.3" fill="#c9c9cd" fill-opacity="0.32"/>
<circle cx="410.21" cy="112.89" r="1.3" fill="#c9c9cd" fill-opacity="0.32"/>
<circle cx="411.78" cy="113.85" r="1.3" fill="#c9c9cd" fill-opacity="0.32"/>
<circle cx="421.72" cy="116.19" r="1.3" fill="#c9c9cd" fill-opacity="0.32"/>
<circle cx="406.93" cy="116.43" r="1.3" fill="#c9c9cd" fill-opacity="0.32"/>
<circle cx="420.16" cy="120.23" r="1.3" fill="#c9c9cd" fill-opacity="0.32"/>
<circle cx="418.20" cy="117.29" r="1.3" fill="#c9c9cd" fill-opacity="0.32"/>
<circle cx="418.14" cy="117.28" r="1.3" fill="#c9c9cd" fill-opacity="0.32"/>
<circle cx="426.71" cy="113.29" r="1.3" fill="#c9c9cd" fill-opacity="0.32"/>
<circle cx="409.31" cy="122.65" r="1.3" fill="#c9c9cd" fill-opacity="0.32"/>
<circle cx="414.25" cy="122.56" r="1.3" fill="#c9c9cd" fill-opacity="0.32"/>
<circle cx="410.33" cy="121.44" r="1.3" fill="#c9c9cd" fill-opacity="0.32"/>
<circle cx="412.36" cy="116.40" r="1.3" fill="#c9c9cd" fill-opacity="0.32"/>
<circle cx="413.32" cy="105.48" r="1.3" fill="#c9c9cd" fill-opacity="0.32"/>
<circle cx="417.43" cy="130.41" r="1.3" fill="#c9c9cd" fill-opacity="0.32"/>
<circle cx="415.84" cy="125.22" r="1.3" fill="#c9c9cd" fill-opacity="0.32"/>
<circle cx="416.82" cy="118.85" r="1.3" fill="#c9c9cd" fill-opacity="0.32"/>
<circle cx="421.10" cy="125.14" r="1.3" fill="#c9c9cd" fill-opacity="0.32"/>
<circle cx="415.32" cy="128.06" r="1.3" fill="#c9c9cd" fill-opacity="0.32"/>
<circle cx="417.77" cy="127.22" r="1.3" fill="#c9c9cd" fill-opacity="0.32"/>
<circle cx="415.53" cy="115.46" r="1.3" fill="#c9c9cd" fill-opacity="0.32"/>
<circle cx="407.29" cy="116.76" r="1.3" fill="#c9c9cd" fill-opacity="0.32"/>
<circle cx="415.05" cy="115.51" r="1.3" fill="#c9c9cd" fill-opacity="0.32"/>
<circle cx="421.23" cy="117.52" r="1.3" fill="#c9c9cd" fill-opacity="0.32"/>
<circle cx="406.51" cy="115.10" r="1.3" fill="#c9c9cd" fill-opacity="0.32"/>
<circle cx="412.52" cy="122.86" r="1.3" fill="#c9c9cd" fill-opacity="0.32"/>
<circle cx="416.38" cy="117.57" r="1.3" fill="#c9c9cd" fill-opacity="0.32"/>
<circle cx="417.92" cy="114.79" r="1.3" fill="#c9c9cd" fill-opacity="0.32"/>
<circle cx="419.28" cy="130.36" r="1.3" fill="#c9c9cd" fill-opacity="0.32"/>
<circle cx="427.35" cy="109.31" r="1.3" fill="#c9c9cd" fill-opacity="0.32"/>
<circle cx="422.50" cy="116.91" r="1.3" fill="#c9c9cd" fill-opacity="0.32"/>
<circle cx="409.34" cy="120.96" r="1.3" fill="#c9c9cd" fill-opacity="0.32"/>
<circle cx="424.53" cy="112.48" r="1.3" fill="#c9c9cd" fill-opacity="0.32"/>
<circle cx="417.86" cy="130.92" r="1.3" fill="#c9c9cd" fill-opacity="0.32"/>
<circle cx="408.35" cy="118.84" r="1.3" fill="#c9c9cd" fill-opacity="0.32"/>
<circle cx="415.36" cy="122.75" r="1.3" fill="#c9c9cd" fill-opacity="0.32"/>
<circle cx="415.99" cy="112.09" r="1.3" fill="#c9c9cd" fill-opacity="0.32"/>
<circle cx="420.34" cy="118.94" r="1.3" fill="#c9c9cd" fill-opacity="0.32"/>
<circle cx="409.21" cy="109.15" r="1.3" fill="#c9c9cd" fill-opacity="0.32"/>
<circle cx="417.31" cy="128.87" r="1.3" fill="#c9c9cd" fill-opacity="0.32"/>
<circle cx="422.30" cy="104.10" r="1.3" fill="#c9c9cd" fill-opacity="0.32"/>
<circle cx="420.82" cy="119.28" r="1.3" fill="#c9c9cd" fill-opacity="0.32"/>
<circle cx="417.37" cy="129.93" r="1.3" fill="#c9c9cd" fill-opacity="0.32"/>
<circle cx="408.36" cy="111.39" r="1.3" fill="#c9c9cd" fill-opacity="0.32"/>
<circle cx="419.51" cy="128.46" r="1.3" fill="#c9c9cd" fill-opacity="0.32"/>
<circle cx="416.94" cy="128.39" r="1.3" fill="#c9c9cd" fill-opacity="0.32"/>
<circle cx="411.84" cy="121.24" r="1.3" fill="#c9c9cd" fill-opacity="0.32"/>
<circle cx="421.15" cy="108.31" r="1.3" fill="#c9c9cd" fill-opacity="0.32"/>
<circle cx="415.62" cy="121.11" r="1.3" fill="#c9c9cd" fill-opacity="0.32"/>
<circle cx="422.53" cy="110.61" r="1.3" fill="#c9c9cd" fill-opacity="0.32"/>
<circle cx="415.67" cy="127.41" r="1.3" fill="#c9c9cd" fill-opacity="0.32"/>
<circle cx="415.58" cy="121.31" r="1.3" fill="#c9c9cd" fill-opacity="0.32"/>
<circle cx="416.27" cy="122.66" r="1.3" fill="#c9c9cd" fill-opacity="0.32"/>
<circle cx="413.22" cy="117.96" r="1.3" fill="#c9c9cd" fill-opacity="0.32"/>
<circle cx="413.86" cy="112.28" r="1.3" fill="#c9c9cd" fill-opacity="0.32"/>
<circle cx="417.09" cy="127.72" r="1.3" fill="#c9c9cd" fill-opacity="0.32"/>
<circle cx="412.59" cy="121.95" r="1.3" fill="#c9c9cd" fill-opacity="0.32"/>
<circle cx="415.94" cy="109.21" r="1.3" fill="#c9c9cd" fill-opacity="0.32"/>
<circle cx="422.30" cy="112.34" r="1.3" fill="#c9c9cd" fill-opacity="0.32"/>
<circle cx="419.51" cy="113.09" r="1.3" fill="#c9c9cd" fill-opacity="0.32"/>
<circle cx="425.48" cy="111.23" r="1.3" fill="#c9c9cd" fill-opacity="0.32"/>
<circle cx="422.69" cy="120.80" r="1.3" fill="#c9c9cd" fill-opacity="0.32"/>
<circle cx="408.68" cy="120.43" r="1.3" fill="#c9c9cd" fill-opacity="0.32"/>
<circle cx="417.47" cy="123.52" r="1.3" fill="#c9c9cd" fill-opacity="0.32"/>
<circle cx="417.14" cy="126.07" r="1.3" fill="#c9c9cd" fill-opacity="0.32"/>
<circle cx="419.10" cy="121.43" r="1.3" fill="#c9c9cd" fill-opacity="0.32"/>
<circle cx="413.32" cy="126.98" r="1.3" fill="#c9c9cd" fill-opacity="0.32"/>
<circle cx="419.13" cy="114.61" r="1.3" fill="#c9c9cd" fill-opacity="0.32"/>
<circle cx="415.49" cy="105.71" r="1.3" fill="#c9c9cd" fill-opacity="0.32"/>
<circle cx="416.16" cy="125.30" r="1.3" fill="#c9c9cd" fill-opacity="0.32"/>
<circle cx="422.13" cy="114.47" r="1.3" fill="#c9c9cd" fill-opacity="0.32"/>
<circle cx="413.66" cy="117.02" r="1.3" fill="#c9c9cd" fill-opacity="0.32"/>
<circle cx="426.87" cy="107.17" r="1.3" fill="#c9c9cd" fill-opacity="0.32"/>
<circle cx="411.62" cy="117.40" r="1.3" fill="#c9c9cd" fill-opacity="0.32"/>
<circle cx="421.24" cy="120.94" r="1.3" fill="#c9c9cd" fill-opacity="0.32"/>
<circle cx="420.37" cy="118.74" r="1.3" fill="#c9c9cd" fill-opacity="0.32"/>
<circle cx="418.59" cy="121.07" r="1.3" fill="#c9c9cd" fill-opacity="0.32"/>
<circle cx="412.96" cy="120.54" r="1.3" fill="#c9c9cd" fill-opacity="0.32"/>
<circle cx="412.93" cy="116.78" r="1.3" fill="#c9c9cd" fill-opacity="0.32"/>
<circle cx="416.22" cy="130.00" r="1.3" fill="#c9c9cd" fill-opacity="0.32"/>
<circle cx="414.47" cy="114.16" r="1.3" fill="#c9c9cd" fill-opacity="0.32"/>
<circle cx="417.15" cy="109.69" r="1.3" fill="#c9c9cd" fill-opacity="0.32"/>
<circle cx="411.06" cy="118.69" r="1.3" fill="#c9c9cd" fill-opacity="0.32"/>
<circle cx="417.32" cy="111.20" r="1.3" fill="#c9c9cd" fill-opacity="0.32"/>
<circle cx="414.09" cy="116.56" r="1.3" fill="#c9c9cd" fill-opacity="0.32"/>
<circle cx="417.26" cy="107.47" r="1.3" fill="#c9c9cd" fill-opacity="0.32"/>
<circle cx="419.84" cy="117.06" r="1.3" fill="#c9c9cd" fill-opacity="0.32"/>
<circle cx="409.20" cy="113.60" r="1.3" fill="#c9c9cd" fill-opacity="0.32"/>
<circle cx="420.29" cy="126.52" r="1.3" fill="#c9c9cd" fill-opacity="0.32"/>
<circle cx="425.17" cy="108.21" r="1.3" fill="#c9c9cd" fill-opacity="0.32"/>
<circle cx="422.09" cy="121.69" r="1.3" fill="#c9c9cd" fill-opacity="0.32"/>
<circle cx="416.18" cy="117.58" r="1.3" fill="#c9c9cd" fill-opacity="0.32"/>
<circle cx="413.88" cy="122.06" r="1.3" fill="#c9c9cd" fill-opacity="0.32"/>
<circle cx="417.03" cy="112.03" r="1.3" fill="#c9c9cd" fill-opacity="0.32"/>
<circle cx="421.44" cy="114.87" r="1.3" fill="#c9c9cd" fill-opacity="0.32"/>
<circle cx="424.81" cy="113.18" r="1.3" fill="#c9c9cd" fill-opacity="0.32"/>
<circle cx="412.68" cy="121.23" r="1.3" fill="#c9c9cd" fill-opacity="0.32"/>
<circle cx="417.10" cy="130.07" r="1.3" fill="#c9c9cd" fill-opacity="0.32"/>
<circle cx="424.43" cy="116.91" r="1.3" fill="#c9c9cd" fill-opacity="0.32"/>
<circle cx="410.52" cy="116.73" r="1.3" fill="#c9c9cd" fill-opacity="0.32"/>
<circle cx="409.60" cy="119.31" r="1.3" fill="#c9c9cd" fill-opacity="0.32"/>
<circle cx="416.48" cy="120.81" r="1.3" fill="#c9c9cd" fill-opacity="0.32"/>
<circle cx="418.78" cy="128.60" r="1.3" fill="#c9c9cd" fill-opacity="0.32"/>
<circle cx="417.43" cy="123.68" r="1.3" fill="#c9c9cd" fill-opacity="0.32"/>
<circle cx="410.66" cy="119.94" r="1.3" fill="#c9c9cd" fill-opacity="0.32"/>
<circle cx="426.93" cy="107.49" r="1.3" fill="#c9c9cd" fill-opacity="0.32"/>
<circle cx="406.03" cy="115.54" r="1.3" fill="#c9c9cd" fill-opacity="0.32"/>
<circle cx="408.08" cy="111.06" r="1.3" fill="#c9c9cd" fill-opacity="0.32"/>
<circle cx="408.71" cy="119.80" r="1.3" fill="#c9c9cd" fill-opacity="0.32"/>
<circle cx="413.75" cy="123.00" r="1.3" fill="#c9c9cd" fill-opacity="0.32"/>
<circle cx="415.44" cy="123.83" r="1.3" fill="#c9c9cd" fill-opacity="0.32"/>
<circle cx="410.23" cy="107.64" r="1.3" fill="#c9c9cd" fill-opacity="0.32"/>
<circle cx="406.70" cy="116.96" r="1.3" fill="#c9c9cd" fill-opacity="0.32"/>
<circle cx="417.76" cy="123.40" r="1.3" fill="#c9c9cd" fill-opacity="0.32"/>
<circle cx="413.61" cy="116.36" r="1.3" fill="#c9c9cd" fill-opacity="0.32"/>
<circle cx="408.94" cy="115.43" r="1.3" fill="#c9c9cd" fill-opacity="0.32"/>
<circle cx="414.81" cy="129.83" r="1.3" fill="#c9c9cd" fill-opacity="0.32"/>
<circle cx="420.34" cy="104.79" r="1.3" fill="#c9c9cd" fill-opacity="0.32"/>
<circle cx="421.76" cy="118.28" r="1.3" fill="#c9c9cd" fill-opacity="0.32"/>
<circle cx="409.78" cy="115.66" r="1.3" fill="#c9c9cd" fill-opacity="0.32"/>
<circle cx="405.07" cy="114.91" r="1.3" fill="#c9c9cd" fill-opacity="0.32"/>
<circle cx="411.44" cy="114.06" r="1.3" fill="#c9c9cd" fill-opacity="0.32"/>
<circle cx="419.65" cy="127.80" r="1.3" fill="#c9c9cd" fill-opacity="0.32"/>
<circle cx="416.15" cy="126.82" r="1.3" fill="#c9c9cd" fill-opacity="0.32"/>
<circle cx="418.35" cy="124.92" r="1.3" fill="#c9c9cd" fill-opacity="0.32"/>
<circle cx="410.45" cy="119.62" r="1.3" fill="#c9c9cd" fill-opacity="0.32"/>
<circle cx="414.94" cy="117.53" r="1.3" fill="#c9c9cd" fill-opacity="0.32"/>
<circle cx="425.37" cy="109.91" r="1.3" fill="#c9c9cd" fill-opacity="0.32"/>
<circle cx="409.99" cy="116.47" r="1.3" fill="#c9c9cd" fill-opacity="0.32"/>
<circle cx="411.20" cy="125.94" r="1.3" fill="#c9c9cd" fill-opacity="0.32"/>
<circle cx="419.99" cy="121.54" r="1.3" fill="#c9c9cd" fill-opacity="0.32"/>
<circle cx="419.13" cy="122.09" r="1.3" fill="#c9c9cd" fill-opacity="0.32"/>
<circle cx="416.36" cy="119.10" r="1.3" fill="#c9c9cd" fill-opacity="0.32"/>
<circle cx="422.13" cy="117.39" r="1.3" fill="#c9c9cd" fill-opacity="0.32"/>
<circle cx="416.39" cy="107.87" r="1.3" fill="#c9c9cd" fill-opacity="0.32"/>
<circle cx="416.50" cy="127.44" r="1.3" fill="#c9c9cd" fill-opacity="0.32"/>
<circle cx="417.91" cy="115.21" r="1.3" fill="#c9c9cd" fill-opacity="0.32"/>
<circle cx="420.52" cy="127.76" r="1.3" fill="#c9c9cd" fill-opacity="0.32"/>
<circle cx="410.22" cy="110.84" r="1.3" fill="#c9c9cd" fill-opacity="0.32"/>
<circle cx="423.29" cy="111.04" r="1.3" fill="#c9c9cd" fill-opacity="0.32"/>
<circle cx="423.35" cy="113.88" r="1.3" fill="#c9c9cd" fill-opacity="0.32"/>
<circle cx="409.93" cy="121.94" r="1.3" fill="#c9c9cd" fill-opacity="0.32"/>
<circle cx="425.08" cy="110.26" r="1.3" fill="#c9c9cd" fill-opacity="0.32"/>
<circle cx="419.68" cy="117.84" r="1.3" fill="#c9c9cd" fill-opacity="0.32"/>
<circle cx="407.48" cy="119.13" r="1.3" fill="#c9c9cd" fill-opacity="0.32"/>
<circle cx="421.98" cy="106.86" r="1.3" fill="#c9c9cd" fill-opacity="0.32"/>
<circle cx="417.06" cy="125.29" r="1.3" fill="#c9c9cd" fill-opacity="0.32"/>
<circle cx="416.17" cy="124.26" r="1.3" fill="#c9c9cd" fill-opacity="0.32"/>
<circle cx="404.93" cy="115.40" r="1.3" fill="#c9c9cd" fill-opacity="0.32"/>
<circle cx="422.35" cy="122.92" r="1.3" fill="#c9c9cd" fill-opacity="0.32"/>
<circle cx="419.62" cy="129.09" r="1.3" fill="#c9c9cd" fill-opacity="0.32"/>
<circle cx="416.38" cy="124.41" r="1.3" fill="#c9c9cd" fill-opacity="0.32"/>
<circle cx="412.04" cy="113.25" r="1.3" fill="#c9c9cd" fill-opacity="0.32"/>
<circle cx="414.95" cy="126.70" r="1.3" fill="#c9c9cd" fill-opacity="0.32"/>
<circle cx="416.38" cy="123.68" r="1.3" fill="#c9c9cd" fill-opacity="0.32"/>
<circle cx="418.62" cy="120.96" r="1.3" fill="#c9c9cd" fill-opacity="0.32"/>
<circle cx="406.71" cy="118.50" r="1.3" fill="#c9c9cd" fill-opacity="0.32"/>
<circle cx="417.67" cy="123.94" r="1.3" fill="#c9c9cd" fill-opacity="0.32"/>
<circle cx="421.43" cy="121.37" r="1.3" fill="#c9c9cd" fill-opacity="0.32"/>
<circle cx="415.68" cy="124.39" r="1.3" fill="#c9c9cd" fill-opacity="0.32"/>
<circle cx="426.53" cy="111.71" r="1.3" fill="#c9c9cd" fill-opacity="0.32"/>
<circle cx="411.19" cy="117.17" r="1.3" fill="#c9c9cd" fill-opacity="0.32"/>
<circle cx="420.97" cy="119.50" r="1.3" fill="#c9c9cd" fill-opacity="0.32"/>
<circle cx="414.48" cy="117.19" r="1.3" fill="#c9c9cd" fill-opacity="0.32"/>
<circle cx="413.15" cy="122.71" r="1.3" fill="#c9c9cd" fill-opacity="0.32"/>
<circle cx="419.56" cy="124.64" r="1.3" fill="#c9c9cd" fill-opacity="0.32"/>
<circle cx="414.04" cy="115.43" r="1.3" fill="#c9c9cd" fill-opacity="0.32"/>
<circle cx="417.51" cy="128.26" r="1.3" fill="#c9c9cd" fill-opacity="0.32"/>
<circle cx="421.07" cy="114.86" r="1.3" fill="#c9c9cd" fill-opacity="0.32"/>
<circle cx="420.68" cy="117.86" r="1.3" fill="#c9c9cd" fill-opacity="0.32"/>
<circle cx="417.97" cy="116.01" r="1.3" fill="#c9c9cd" fill-opacity="0.32"/>
<circle cx="415.59" cy="108.00" r="1.3" fill="#c9c9cd" fill-opacity="0.32"/>
<circle cx="409.83" cy="123.41" r="1.3" fill="#c9c9cd" fill-opacity="0.32"/>
<circle cx="423.27" cy="111.57" r="1.3" fill="#c9c9cd" fill-opacity="0.32"/>
<circle cx="418.57" cy="123.73" r="1.3" fill="#c9c9cd" fill-opacity="0.32"/>
<circle cx="414.48" cy="114.95" r="1.3" fill="#c9c9cd" fill-opacity="0.32"/>
<circle cx="411.15" cy="122.70" r="1.3" fill="#c9c9cd" fill-opacity="0.32"/>
<circle cx="416.65" cy="110.27" r="1.3" fill="#c9c9cd" fill-opacity="0.32"/>
<circle cx="419.14" cy="122.88" r="1.3" fill="#c9c9cd" fill-opacity="0.32"/>
<circle cx="413.52" cy="127.06" r="1.3" fill="#c9c9cd" fill-opacity="0.32"/>
<circle cx="419.39" cy="129.54" r="1.3" fill="#c9c9cd" fill-opacity="0.32"/>
<circle cx="416.57" cy="124.82" r="1.3" fill="#c9c9cd" fill-opacity="0.32"/>
<circle cx="412.86" cy="117.18" r="1.3" fill="#c9c9cd" fill-opacity="0.32"/>
<circle cx="424.13" cy="109.54" r="1.3" fill="#c9c9cd" fill-opacity="0.32"/>
<circle cx="413.42" cy="120.94" r="1.3" fill="#c9c9cd" fill-opacity="0.32"/>
<circle cx="418.09" cy="115.18" r="1.3" fill="#c9c9cd" fill-opacity="0.32"/>
<circle cx="408.18" cy="115.95" r="1.3" fill="#c9c9cd" fill-opacity="0.32"/>
<circle cx="417.55" cy="122.01" r="1.3" fill="#c9c9cd" fill-opacity="0.32"/>
<circle cx="422.00" cy="120.06" r="1.3" fill="#c9c9cd" fill-opacity="0.32"/>
<circle cx="409.52" cy="120.87" r="1.3" fill="#c9c9cd" fill-opacity="0.32"/>
<circle cx="423.80" cy="114.79" r="1.3" fill="#c9c9cd" fill-opacity="0.32"/>
<polygon points="401.3,131.0 401.3,115.0 404.0,114.2 407.0,115.0 410.0,114.2 413.5,115.2 414.2,122.0 414.0,131.0" fill="#c8c8cc" stroke="#c8c8cc" stroke-width="0.8" stroke-linejoin="round"/>
<circle cx="482.00" cy="28.75" r="1.2" fill="#e3e3e7" fill-opacity="0.95"/>
<circle cx="487.00" cy="37.50" r="1.2" fill="#e3e3e7" fill-opacity="0.95"/>
<circle cx="457.00" cy="39.50" r="1.2" fill="#e3e3e7" fill-opacity="0.95"/>
<circle cx="444.00" cy="90.00" r="1.2" fill="#e3e3e7" fill-opacity="0.95"/>
<circle cx="432.50" cy="99.00" r="1.2" fill="#e3e3e7" fill-opacity="0.95"/>
<circle cx="430.00" cy="107.50" r="1.2" fill="#e3e3e7" fill-opacity="0.95"/>
<circle cx="420.00" cy="102.50" r="1.2" fill="#e3e3e7" fill-opacity="0.95"/>
<circle cx="417.90" cy="96.10" r="1.2" fill="#e3e3e7" fill-opacity="0.95"/>
<circle cx="420.80" cy="101.30" r="1.2" fill="#e3e3e7" fill-opacity="0.95"/>
<circle cx="429.50" cy="101.30" r="1.2" fill="#e3e3e7" fill-opacity="0.95"/>
<circle cx="432.90" cy="98.50" r="1.2" fill="#e3e3e7" fill-opacity="0.95"/>
<circle cx="443.90" cy="90.40" r="1.2" fill="#e3e3e7" fill-opacity="0.95"/>
<circle cx="430.00" cy="106.50" r="1.2" fill="#e3e3e7" fill-opacity="0.95"/>
<circle cx="426.60" cy="110.60" r="1.2" fill="#e3e3e7" fill-opacity="0.95"/>
<circle cx="419.70" cy="117.00" r="1.2" fill="#e3e3e7" fill-opacity="0.95"/>
<circle cx="416.80" cy="107.10" r="1.2" fill="#e3e3e7" fill-opacity="0.95"/>
<circle cx="420.60" cy="84.40" r="2.3" fill="#d83a48" fill-opacity="0.25"/>
<circle cx="420.60" cy="84.40" r="1.55" fill="#921a24"/>
<circle cx="409.80" cy="102.20" r="2.3" fill="#d83a48" fill-opacity="0.25"/>
<circle cx="409.80" cy="102.20" r="1.55" fill="#921a24"/>
<circle cx="405.00" cy="107.30" r="2.3" fill="#d83a48" fill-opacity="0.25"/>
<circle cx="405.00" cy="107.30" r="1.55" fill="#921a24"/>
<circle cx="404.10" cy="111.40" r="2.3" fill="#d83a48" fill-opacity="0.25"/>
<circle cx="404.10" cy="111.40" r="1.55" fill="#921a24"/>
<circle cx="419.70" cy="130.00" r="2.3" fill="#d83a48" fill-opacity="0.25"/>
<circle cx="419.70" cy="130.00" r="1.55" fill="#921a24"/>
<line x1="423.00" y1="81.90" x2="427.80" y2="76.60" stroke="#1a1a1a" stroke-width="1.1"/>
<text x="428.40" y="75.00" font-size="6.6" text-anchor="start" fill="#333" stroke="#333" stroke-width="0.15" font-style="italic" textLength="18.60" lengthAdjust="spacingAndGlyphs">STAT6</text>
<line x1="51.80" y1="383.80" x2="51.80" y2="498.80" stroke="#1a1a1a" stroke-width="1.25"/>
<line x1="48.80" y1="493.10" x2="51.80" y2="493.10" stroke="#222" stroke-width="1.3"/>
<text x="45.60" y="496.00" font-size="7.0" text-anchor="end" fill="#3d3d3d" stroke="#3d3d3d" stroke-width="0.15">0<tspan font-size="6.6" >%</tspan></text>
<line x1="48.80" y1="477.00" x2="51.80" y2="477.00" stroke="#222" stroke-width="1.3"/>
<text x="45.60" y="479.90" font-size="7.0" text-anchor="end" fill="#3d3d3d" stroke="#3d3d3d" stroke-width="0.15">10<tspan font-size="6.6" >%</tspan></text>
<line x1="48.80" y1="460.90" x2="51.80" y2="460.90" stroke="#222" stroke-width="1.3"/>
<text x="45.60" y="463.80" font-size="7.0" text-anchor="end" fill="#3d3d3d" stroke="#3d3d3d" stroke-width="0.15">20<tspan font-size="6.6" >%</tspan></text>
<line x1="48.80" y1="444.80" x2="51.80" y2="444.80" stroke="#222" stroke-width="1.3"/>
<text x="45.60" y="447.70" font-size="7.0" text-anchor="end" fill="#3d3d3d" stroke="#3d3d3d" stroke-width="0.15">30<tspan font-size="6.6" >%</tspan></text>
<line x1="48.80" y1="428.70" x2="51.80" y2="428.70" stroke="#222" stroke-width="1.3"/>
<text x="45.60" y="431.60" font-size="7.0" text-anchor="end" fill="#3d3d3d" stroke="#3d3d3d" stroke-width="0.15">40<tspan font-size="6.6" >%</tspan></text>
<line x1="48.80" y1="412.60" x2="51.80" y2="412.60" stroke="#222" stroke-width="1.3"/>
<text x="45.60" y="415.50" font-size="7.0" text-anchor="end" fill="#3d3d3d" stroke="#3d3d3d" stroke-width="0.15">50<tspan font-size="6.6" >%</tspan></text>
<line x1="48.80" y1="396.50" x2="51.80" y2="396.50" stroke="#222" stroke-width="1.3"/>
<text x="45.60" y="399.40" font-size="7.0" text-anchor="end" fill="#3d3d3d" stroke="#3d3d3d" stroke-width="0.15">60<tspan font-size="6.6" >%</tspan></text>
<line x1="51.20" y1="498.25" x2="156.75" y2="498.25" stroke="#1a1a1a" stroke-width="1.25"/>
<line x1="56.30" y1="498.25" x2="56.30" y2="501.25" stroke="#222" stroke-width="1.3"/>
<text x="59.50" y="508.65" font-size="7.0" text-anchor="end" fill="#3d3d3d" stroke="#3d3d3d" stroke-width="0.15" transform="rotate(-45 59.50 508.65)">0<tspan font-size="6.6" >%</tspan></text>
<line x1="71.08" y1="498.25" x2="71.08" y2="501.25" stroke="#222" stroke-width="1.3"/>
<text x="74.28" y="508.65" font-size="7.0" text-anchor="end" fill="#3d3d3d" stroke="#3d3d3d" stroke-width="0.15" transform="rotate(-45 74.28 508.65)">10<tspan font-size="6.6" >%</tspan></text>
<line x1="85.86" y1="498.25" x2="85.86" y2="501.25" stroke="#222" stroke-width="1.3"/>
<text x="89.06" y="508.65" font-size="7.0" text-anchor="end" fill="#3d3d3d" stroke="#3d3d3d" stroke-width="0.15" transform="rotate(-45 89.06 508.65)">20<tspan font-size="6.6" >%</tspan></text>
<line x1="100.64" y1="498.25" x2="100.64" y2="501.25" stroke="#222" stroke-width="1.3"/>
<text x="103.84" y="508.65" font-size="7.0" text-anchor="end" fill="#3d3d3d" stroke="#3d3d3d" stroke-width="0.15" transform="rotate(-45 103.84 508.65)">30<tspan font-size="6.6" >%</tspan></text>
<line x1="115.42" y1="498.25" x2="115.42" y2="501.25" stroke="#222" stroke-width="1.3"/>
<text x="118.62" y="508.65" font-size="7.0" text-anchor="end" fill="#3d3d3d" stroke="#3d3d3d" stroke-width="0.15" transform="rotate(-45 118.62 508.65)">40<tspan font-size="6.6" >%</tspan></text>
<line x1="130.20" y1="498.25" x2="130.20" y2="501.25" stroke="#222" stroke-width="1.3"/>
<text x="133.40" y="508.65" font-size="7.0" text-anchor="end" fill="#3d3d3d" stroke="#3d3d3d" stroke-width="0.15" transform="rotate(-45 133.40 508.65)">50<tspan font-size="6.6" >%</tspan></text>
<line x1="144.98" y1="498.25" x2="144.98" y2="501.25" stroke="#222" stroke-width="1.3"/>
<text x="148.18" y="508.65" font-size="7.0" text-anchor="end" fill="#3d3d3d" stroke="#3d3d3d" stroke-width="0.15" transform="rotate(-45 148.18 508.65)">60<tspan font-size="6.6" >%</tspan></text>
<text x="25.80" y="441.50" font-size="9.0" text-anchor="middle" fill="#2a2a2a" stroke="#2a2a2a" stroke-width="0.25" textLength="95.50" lengthAdjust="spacingAndGlyphs" transform="rotate(-90 25.80 441.50)">Percent mutated all t–FL (n = 47)</text>
<text x="105.00" y="529.80" font-size="9.0" text-anchor="middle" fill="#2a2a2a" stroke="#2a2a2a" stroke-width="0.25" textLength="45.90" lengthAdjust="spacingAndGlyphs">Percent mutated</text>
<text x="104.80" y="540.70" font-size="9.0" text-anchor="middle" fill="#2a2a2a" stroke="#2a2a2a" stroke-width="0.25" textLength="44.50" lengthAdjust="spacingAndGlyphs">all FL (n = 323)</text>
<circle cx="67.46" cy="475.87" r="1.3" fill="#c9c9cd" fill-opacity="0.32"/>
<circle cx="71.15" cy="483.31" r="1.3" fill="#c9c9cd" fill-opacity="0.32"/>
<circle cx="74.82" cy="469.09" r="1.3" fill="#c9c9cd" fill-opacity="0.32"/>
<circle cx="72.00" cy="488.20" r="1.3" fill="#c9c9cd" fill-opacity="0.32"/>
<circle cx="69.79" cy="475.69" r="1.3" fill="#c9c9cd" fill-opacity="0.32"/>
<circle cx="68.10" cy="476.32" r="1.3" fill="#c9c9cd" fill-opacity="0.32"/>
<circle cx="68.01" cy="475.37" r="1.3" fill="#c9c9cd" fill-opacity="0.32"/>
<circle cx="70.79" cy="484.65" r="1.3" fill="#c9c9cd" fill-opacity="0.32"/>
<circle cx="71.99" cy="486.48" r="1.3" fill="#c9c9cd" fill-opacity="0.32"/>
<circle cx="72.78" cy="476.13" r="1.3" fill="#c9c9cd" fill-opacity="0.32"/>
<circle cx="71.74" cy="485.99" r="1.3" fill="#c9c9cd" fill-opacity="0.32"/>
<circle cx="74.67" cy="486.06" r="1.3" fill="#c9c9cd" fill-opacity="0.32"/>
<circle cx="69.91" cy="493.51" r="1.3" fill="#c9c9cd" fill-opacity="0.32"/>
<circle cx="73.80" cy="475.59" r="1.3" fill="#c9c9cd" fill-opacity="0.32"/>
<circle cx="64.96" cy="474.99" r="1.3" fill="#c9c9cd" fill-opacity="0.32"/>
<circle cx="72.10" cy="486.89" r="1.3" fill="#c9c9cd" fill-opacity="0.32"/>
<circle cx="69.02" cy="485.02" r="1.3" fill="#c9c9cd" fill-opacity="0.32"/>
<circle cx="75.01" cy="482.41" r="1.3" fill="#c9c9cd" fill-opacity="0.32"/>
<circle cx="63.90" cy="472.34" r="1.3" fill="#c9c9cd" fill-opacity="0.32"/>
<circle cx="70.73" cy="469.39" r="1.3" fill="#c9c9cd" fill-opacity="0.32"/>
<circle cx="69.01" cy="486.13" r="1.3" fill="#c9c9cd" fill-opacity="0.32"/>
<circle cx="65.78" cy="466.63" r="1.3" fill="#c9c9cd" fill-opacity="0.32"/>
<circle cx="72.31" cy="483.61" r="1.3" fill="#c9c9cd" fill-opacity="0.32"/>
<circle cx="64.55" cy="477.65" r="1.3" fill="#c9c9cd" fill-opacity="0.32"/>
<circle cx="68.99" cy="487.58" r="1.3" fill="#c9c9cd" fill-opacity="0.32"/>
<circle cx="70.88" cy="471.46" r="1.3" fill="#c9c9cd" fill-opacity="0.32"/>
<circle cx="72.14" cy="472.67" r="1.3" fill="#c9c9cd" fill-opacity="0.32"/>
<circle cx="71.69" cy="479.41" r="1.3" fill="#c9c9cd" fill-opacity="0.32"/>
<circle cx="69.83" cy="491.69" r="1.3" fill="#c9c9cd" fill-opacity="0.32"/>
<circle cx="60.87" cy="476.70" r="1.3" fill="#c9c9cd" fill-opacity="0.32"/>
<circle cx="74.64" cy="474.45" r="1.3" fill="#c9c9cd" fill-opacity="0.32"/>
<circle cx="76.48" cy="472.89" r="1.3" fill="#c9c9cd" fill-opacity="0.32"/>
<circle cx="71.14" cy="486.26" r="1.3" fill="#c9c9cd" fill-opacity="0.32"/>
<circle cx="72.24" cy="480.93" r="1.3" fill="#c9c9cd" fill-opacity="0.32"/>
<circle cx="70.22" cy="475.13" r="1.3" fill="#c9c9cd" fill-opacity="0.32"/>
<circle cx="75.59" cy="482.74" r="1.3" fill="#c9c9cd" fill-opacity="0.32"/>
<circle cx="69.99" cy="483.79" r="1.3" fill="#c9c9cd" fill-opacity="0.32"/>
<circle cx="69.92" cy="481.04" r="1.3" fill="#c9c9cd" fill-opacity="0.32"/>
<circle cx="67.75" cy="477.56" r="1.3" fill="#c9c9cd" fill-opacity="0.32"/>
<circle cx="61.74" cy="474.27" r="1.3" fill="#c9c9cd" fill-opacity="0.32"/>
<circle cx="60.25" cy="474.80" r="1.3" fill="#c9c9cd" fill-opacity="0.32"/>
<circle cx="72.02" cy="487.84" r="1.3" fill="#c9c9cd" fill-opacity="0.32"/>
<circle cx="72.35" cy="485.86" r="1.3" fill="#c9c9cd" fill-opacity="0.32"/>
<circle cx="67.90" cy="469.24" r="1.3" fill="#c9c9cd" fill-opacity="0.32"/>
<circle cx="70.74" cy="482.32" r="1.3" fill="#c9c9cd" fill-opacity="0.32"/>
<circle cx="69.40" cy="466.59" r="1.3" fill="#c9c9cd" fill-opacity="0.32"/>
<circle cx="62.87" cy="476.78" r="1.3" fill="#c9c9cd" fill-opacity="0.32"/>
<circle cx="71.46" cy="473.32" r="1.3" fill="#c9c9cd" fill-opacity="0.32"/>
<circle cx="72.21" cy="479.73" r="1.3" fill="#c9c9cd" fill-opacity="0.32"/>
<circle cx="74.78" cy="474.32" r="1.3" fill="#c9c9cd" fill-opacity="0.32"/>
<circle cx="72.33" cy="476.37" r="1.3" fill="#c9c9cd" fill-opacity="0.32"/>
<circle cx="71.17" cy="473.68" r="1.3" fill="#c9c9cd" fill-opacity="0.32"/>
<circle cx="75.34" cy="477.08" r="1.3" fill="#c9c9cd" fill-opacity="0.32"/>
<circle cx="68.91" cy="483.23" r="1.3" fill="#c9c9cd" fill-opacity="0.32"/>
<circle cx="72.76" cy="479.01" r="1.3" fill="#c9c9cd" fill-opacity="0.32"/>
<circle cx="70.31" cy="485.02" r="1.3" fill="#c9c9cd" fill-opacity="0.32"/>
<circle cx="71.18" cy="489.07" r="1.3" fill="#c9c9cd" fill-opacity="0.32"/>
<circle cx="70.16" cy="483.93" r="1.3" fill="#c9c9cd" fill-opacity="0.32"/>
<circle cx="72.50" cy="480.39" r="1.3" fill="#c9c9cd" fill-opacity="0.32"/>
<circle cx="73.96" cy="485.33" r="1.3" fill="#c9c9cd" fill-opacity="0.32"/>
<circle cx="65.80" cy="468.36" r="1.3" fill="#c9c9cd" fill-opacity="0.32"/>
<circle cx="73.87" cy="478.68" r="1.3" fill="#c9c9cd" fill-opacity="0.32"/>
<circle cx="59.78" cy="473.64" r="1.3" fill="#c9c9cd" fill-opacity="0.32"/>
<circle cx="63.50" cy="471.23" r="1.3" fill="#c9c9cd" fill-opacity="0.32"/>
<circle cx="73.46" cy="488.25" r="1.3" fill="#c9c9cd" fill-opacity="0.32"/>
<circle cx="69.15" cy="489.85" r="1.3" fill="#c9c9cd" fill-opacity="0.32"/>
<circle cx="73.85" cy="484.09" r="1.3" fill="#c9c9cd" fill-opacity="0.32"/>
<circle cx="72.21" cy="490.48" r="1.3" fill="#c9c9cd" fill-opacity="0.32"/>
<circle cx="74.86" cy="469.23" r="1.3" fill="#c9c9cd" fill-opacity="0.32"/>
<circle cx="71.04" cy="468.92" r="1.3" fill="#c9c9cd" fill-opacity="0.32"/>
<circle cx="70.45" cy="489.16" r="1.3" fill="#c9c9cd" fill-opacity="0.32"/>
<circle cx="70.65" cy="483.47" r="1.3" fill="#c9c9cd" fill-opacity="0.32"/>
<circle cx="63.20" cy="476.95" r="1.3" fill="#c9c9cd" fill-opacity="0.32"/>
<circle cx="62.96" cy="476.73" r="1.3" fill="#c9c9cd" fill-opacity="0.32"/>
<circle cx="71.25" cy="476.39" r="1.3" fill="#c9c9cd" fill-opacity="0.32"/>
<circle cx="64.91" cy="474.50" r="1.3" fill="#c9c9cd" fill-opacity="0.32"/>
<circle cx="72.61" cy="480.32" r="1.3" fill="#c9c9cd" fill-opacity="0.32"/>
<circle cx="68.79" cy="481.31" r="1.3" fill="#c9c9cd" fill-opacity="0.32"/>
<circle cx="72.08" cy="470.20" r="1.3" fill="#c9c9cd" fill-opacity="0.32"/>
<circle cx="72.49" cy="486.23" r="1.3" fill="#c9c9cd" fill-opacity="0.32"/>
<circle cx="71.91" cy="482.94" r="1.3" fill="#c9c9cd" fill-opacity="0.32"/>
<circle cx="71.16" cy="487.20" r="1.3" fill="#c9c9cd" fill-opacity="0.32"/>
<circle cx="64.55" cy="470.58" r="1.3" fill="#c9c9cd" fill-opacity="0.32"/>
<circle cx="67.09" cy="471.22" r="1.3" fill="#c9c9cd" fill-opacity="0.32"/>
<circle cx="74.42" cy="475.70" r="1.3" fill="#c9c9cd" fill-opacity="0.32"/>
<circle cx="70.36" cy="480.93" r="1.3" fill="#c9c9cd" fill-opacity="0.32"/>
<circle cx="68.69" cy="475.75" r="1.3" fill="#c9c9cd" fill-opacity="0.32"/>
<circle cx="71.35" cy="489.27" r="1.3" fill="#c9c9cd" fill-opacity="0.32"/>
<circle cx="68.45" cy="471.18" r="1.3" fill="#c9c9cd" fill-opacity="0.32"/>
<circle cx="74.57" cy="477.27" r="1.3" fill="#c9c9cd" fill-opacity="0.32"/>
<circle cx="68.84" cy="473.62" r="1.3" fill="#c9c9cd" fill-opacity="0.32"/>
<circle cx="71.48" cy="481.33" r="1.3" fill="#c9c9cd" fill-opacity="0.32"/>
<circle cx="69.49" cy="480.83" r="1.3" fill="#c9c9cd" fill-opacity="0.32"/>
<circle cx="60.26" cy="477.10" r="1.3" fill="#c9c9cd" fill-opacity="0.32"/>
<circle cx="68.38" cy="482.32" r="1.3" fill="#c9c9cd" fill-opacity="0.32"/>
<circle cx="69.24" cy="489.17" r="1.3" fill="#c9c9cd" fill-opacity="0.32"/>
<circle cx="72.68" cy="471.82" r="1.3" fill="#c9c9cd" fill-opacity="0.32"/>
<circle cx="64.68" cy="476.57" r="1.3" fill="#c9c9cd" fill-opacity="0.32"/>
<circle cx="62.86" cy="473.78" r="1.3" fill="#c9c9cd" fill-opacity="0.32"/>
<circle cx="71.32" cy="485.24" r="1.3" fill="#c9c9cd" fill-opacity="0.32"/>
<circle cx="68.46" cy="484.14" r="1.3" fill="#c9c9cd" fill-opacity="0.32"/>
<circle cx="69.43" cy="493.38" r="1.3" fill="#c9c9cd" fill-opacity="0.32"/>
<circle cx="70.89" cy="473.35" r="1.3" fill="#c9c9cd" fill-opacity="0.32"/>
<circle cx="61.48" cy="472.69" r="1.3" fill="#c9c9cd" fill-opacity="0.32"/>
<circle cx="68.85" cy="474.19" r="1.3" fill="#c9c9cd" fill-opacity="0.32"/>
<circle cx="74.66" cy="475.76" r="1.3" fill="#c9c9cd" fill-opacity="0.32"/>
<circle cx="69.76" cy="480.77" r="1.3" fill="#c9c9cd" fill-opacity="0.32"/>
<circle cx="70.92" cy="484.71" r="1.3" fill="#c9c9cd" fill-opacity="0.32"/>
<circle cx="71.61" cy="475.27" r="1.3" fill="#c9c9cd" fill-opacity="0.32"/>
<circle cx="63.36" cy="473.69" r="1.3" fill="#c9c9cd" fill-opacity="0.32"/>
<circle cx="73.47" cy="480.26" r="1.3" fill="#c9c9cd" fill-opacity="0.32"/>
<circle cx="64.67" cy="470.41" r="1.3" fill="#c9c9cd" fill-opacity="0.32"/>
<circle cx="59.70" cy="473.31" r="1.3" fill="#c9c9cd" fill-opacity="0.32"/>
<circle cx="72.19" cy="475.82" r="1.3" fill="#c9c9cd" fill-opacity="0.32"/>
<circle cx="69.16" cy="476.67" r="1.3" fill="#c9c9cd" fill-opacity="0.32"/>
<circle cx="69.59" cy="486.48" r="1.3" fill="#c9c9cd" fill-opacity="0.32"/>
<circle cx="69.13" cy="484.45" r="1.3" fill="#c9c9cd" fill-opacity="0.32"/>
<circle cx="66.10" cy="477.63" r="1.3" fill="#c9c9cd" fill-opacity="0.32"/>
<circle cx="70.52" cy="485.73" r="1.3" fill="#c9c9cd" fill-opacity="0.32"/>
<circle cx="69.50" cy="466.29" r="1.3" fill="#c9c9cd" fill-opacity="0.32"/>
<circle cx="66.47" cy="472.58" r="1.3" fill="#c9c9cd" fill-opacity="0.32"/>
<circle cx="70.28" cy="487.33" r="1.3" fill="#c9c9cd" fill-opacity="0.32"/>
<circle cx="74.91" cy="485.60" r="1.3" fill="#c9c9cd" fill-opacity="0.32"/>
<circle cx="74.60" cy="484.42" r="1.3" fill="#c9c9cd" fill-opacity="0.32"/>
<circle cx="61.12" cy="472.47" r="1.3" fill="#c9c9cd" fill-opacity="0.32"/>
<circle cx="68.03" cy="475.10" r="1.3" fill="#c9c9cd" fill-opacity="0.32"/>
<circle cx="72.10" cy="487.56" r="1.3" fill="#c9c9cd" fill-opacity="0.32"/>
<circle cx="72.62" cy="489.16" r="1.3" fill="#c9c9cd" fill-opacity="0.32"/>
<circle cx="68.77" cy="473.33" r="1.3" fill="#c9c9cd" fill-opacity="0.32"/>
<circle cx="71.04" cy="479.74" r="1.3" fill="#c9c9cd" fill-opacity="0.32"/>
<circle cx="72.20" cy="476.21" r="1.3" fill="#c9c9cd" fill-opacity="0.32"/>
<circle cx="72.42" cy="484.28" r="1.3" fill="#c9c9cd" fill-opacity="0.32"/>
<circle cx="76.37" cy="480.04" r="1.3" fill="#c9c9cd" fill-opacity="0.32"/>
<circle cx="75.22" cy="483.24" r="1.3" fill="#c9c9cd" fill-opacity="0.32"/>
<circle cx="70.35" cy="469.45" r="1.3" fill="#c9c9cd" fill-opacity="0.32"/>
<circle cx="73.24" cy="482.44" r="1.3" fill="#c9c9cd" fill-opacity="0.32"/>
<circle cx="65.31" cy="471.17" r="1.3" fill="#c9c9cd" fill-opacity="0.32"/>
<circle cx="71.12" cy="474.12" r="1.3" fill="#c9c9cd" fill-opacity="0.32"/>
<circle cx="71.70" cy="478.40" r="1.3" fill="#c9c9cd" fill-opacity="0.32"/>
<circle cx="70.65" cy="487.86" r="1.3" fill="#c9c9cd" fill-opacity="0.32"/>
<circle cx="69.81" cy="488.56" r="1.3" fill="#c9c9cd" fill-opacity="0.32"/>
<circle cx="66.94" cy="473.60" r="1.3" fill="#c9c9cd" fill-opacity="0.32"/>
<circle cx="68.80" cy="485.30" r="1.3" fill="#c9c9cd" fill-opacity="0.32"/>
<circle cx="65.58" cy="475.01" r="1.3" fill="#c9c9cd" fill-opacity="0.32"/>
<circle cx="68.73" cy="478.42" r="1.3" fill="#c9c9cd" fill-opacity="0.32"/>
<circle cx="62.31" cy="473.84" r="1.3" fill="#c9c9cd" fill-opacity="0.32"/>
<circle cx="72.96" cy="471.53" r="1.3" fill="#c9c9cd" fill-opacity="0.32"/>
<circle cx="72.65" cy="480.43" r="1.3" fill="#c9c9cd" fill-opacity="0.32"/>
<circle cx="70.05" cy="469.10" r="1.3" fill="#c9c9cd" fill-opacity="0.32"/>
<circle cx="74.21" cy="470.43" r="1.3" fill="#c9c9cd" fill-opacity="0.32"/>
<circle cx="69.00" cy="484.17" r="1.3" fill="#c9c9cd" fill-opacity="0.32"/>
<circle cx="71.66" cy="479.49" r="1.3" fill="#c9c9cd" fill-opacity="0.32"/>
<circle cx="69.14" cy="482.63" r="1.3" fill="#c9c9cd" fill-opacity="0.32"/>
<circle cx="71.96" cy="484.87" r="1.3" fill="#c9c9cd" fill-opacity="0.32"/>
<circle cx="69.78" cy="486.39" r="1.3" fill="#c9c9cd" fill-opacity="0.32"/>
<circle cx="73.22" cy="481.94" r="1.3" fill="#c9c9cd" fill-opacity="0.32"/>
<circle cx="71.07" cy="477.11" r="1.3" fill="#c9c9cd" fill-opacity="0.32"/>
<circle cx="74.17" cy="485.95" r="1.3" fill="#c9c9cd" fill-opacity="0.32"/>
<circle cx="75.10" cy="479.97" r="1.3" fill="#c9c9cd" fill-opacity="0.32"/>
<circle cx="69.40" cy="490.78" r="1.3" fill="#c9c9cd" fill-opacity="0.32"/>
<circle cx="64.50" cy="469.36" r="1.3" fill="#c9c9cd" fill-opacity="0.32"/>
<circle cx="74.48" cy="477.56" r="1.3" fill="#c9c9cd" fill-opacity="0.32"/>
<circle cx="73.97" cy="482.22" r="1.3" fill="#c9c9cd" fill-opacity="0.32"/>
<circle cx="73.55" cy="485.02" r="1.3" fill="#c9c9cd" fill-opacity="0.32"/>
<circle cx="71.93" cy="474.50" r="1.3" fill="#c9c9cd" fill-opacity="0.32"/>
<circle cx="69.77" cy="487.36" r="1.3" fill="#c9c9cd" fill-opacity="0.32"/>
<circle cx="72.71" cy="474.68" r="1.3" fill="#c9c9cd" fill-opacity="0.32"/>
<circle cx="70.04" cy="483.03" r="1.3" fill="#c9c9cd" fill-opacity="0.32"/>
<circle cx="72.18" cy="483.53" r="1.3" fill="#c9c9cd" fill-opacity="0.32"/>
<circle cx="73.98" cy="487.06" r="1.3" fill="#c9c9cd" fill-opacity="0.32"/>
<circle cx="61.67" cy="477.13" r="1.3" fill="#c9c9cd" fill-opacity="0.32"/>
<circle cx="71.80" cy="481.56" r="1.3" fill="#c9c9cd" fill-opacity="0.32"/>
<circle cx="73.95" cy="483.51" r="1.3" fill="#c9c9cd" fill-opacity="0.32"/>
<circle cx="70.61" cy="475.20" r="1.3" fill="#c9c9cd" fill-opacity="0.32"/>
<circle cx="73.19" cy="486.49" r="1.3" fill="#c9c9cd" fill-opacity="0.32"/>
<circle cx="75.53" cy="480.51" r="1.3" fill="#c9c9cd" fill-opacity="0.32"/>
<circle cx="73.38" cy="487.31" r="1.3" fill="#c9c9cd" fill-opacity="0.32"/>
<circle cx="74.92" cy="482.44" r="1.3" fill="#c9c9cd" fill-opacity="0.32"/>
<circle cx="71.74" cy="489.18" r="1.3" fill="#c9c9cd" fill-opacity="0.32"/>
<circle cx="70.39" cy="489.02" r="1.3" fill="#c9c9cd" fill-opacity="0.32"/>
<circle cx="73.92" cy="482.39" r="1.3" fill="#c9c9cd" fill-opacity="0.32"/>
<circle cx="61.07" cy="471.90" r="1.3" fill="#c9c9cd" fill-opacity="0.32"/>
<circle cx="60.11" cy="476.44" r="1.3" fill="#c9c9cd" fill-opacity="0.32"/>
<circle cx="69.21" cy="470.77" r="1.3" fill="#c9c9cd" fill-opacity="0.32"/>
<circle cx="62.19" cy="470.96" r="1.3" fill="#c9c9cd" fill-opacity="0.32"/>
<circle cx="74.29" cy="475.94" r="1.3" fill="#c9c9cd" fill-opacity="0.32"/>
<circle cx="71.31" cy="480.50" r="1.3" fill="#c9c9cd" fill-opacity="0.32"/>
<circle cx="67.53" cy="472.70" r="1.3" fill="#c9c9cd" fill-opacity="0.32"/>
<circle cx="64.71" cy="468.83" r="1.3" fill="#c9c9cd" fill-opacity="0.32"/>
<circle cx="69.88" cy="473.84" r="1.3" fill="#c9c9cd" fill-opacity="0.32"/>
<circle cx="72.84" cy="487.63" r="1.3" fill="#c9c9cd" fill-opacity="0.32"/>
<circle cx="73.83" cy="487.90" r="1.3" fill="#c9c9cd" fill-opacity="0.32"/>
<circle cx="69.99" cy="469.98" r="1.3" fill="#c9c9cd" fill-opacity="0.32"/>
<circle cx="70.05" cy="485.08" r="1.3" fill="#c9c9cd" fill-opacity="0.32"/>
<circle cx="68.12" cy="478.38" r="1.3" fill="#c9c9cd" fill-opacity="0.32"/>
<circle cx="63.16" cy="471.84" r="1.3" fill="#c9c9cd" fill-opacity="0.32"/>
<circle cx="65.94" cy="476.18" r="1.3" fill="#c9c9cd" fill-opacity="0.32"/>
<circle cx="70.41" cy="492.62" r="1.3" fill="#c9c9cd" fill-opacity="0.32"/>
<circle cx="71.14" cy="476.31" r="1.3" fill="#c9c9cd" fill-opacity="0.32"/>
<circle cx="68.15" cy="471.08" r="1.3" fill="#c9c9cd" fill-opacity="0.32"/>
<circle cx="62.52" cy="469.18" r="1.3" fill="#c9c9cd" fill-opacity="0.32"/>
<circle cx="62.29" cy="477.19" r="1.3" fill="#c9c9cd" fill-opacity="0.32"/>
<circle cx="70.60" cy="472.00" r="1.3" fill="#c9c9cd" fill-opacity="0.32"/>
<circle cx="65.96" cy="469.94" r="1.3" fill="#c9c9cd" fill-opacity="0.32"/>
<circle cx="66.12" cy="474.37" r="1.3" fill="#c9c9cd" fill-opacity="0.32"/>
<circle cx="66.51" cy="471.20" r="1.3" fill="#c9c9cd" fill-opacity="0.32"/>
<circle cx="71.16" cy="475.73" r="1.3" fill="#c9c9cd" fill-opacity="0.32"/>
<circle cx="75.05" cy="475.58" r="1.3" fill="#c9c9cd" fill-opacity="0.32"/>
<circle cx="69.23" cy="487.64" r="1.3" fill="#c9c9cd" fill-opacity="0.32"/>
<circle cx="66.18" cy="472.91" r="1.3" fill="#c9c9cd" fill-opacity="0.32"/>
<circle cx="71.56" cy="481.03" r="1.3" fill="#c9c9cd" fill-opacity="0.32"/>
<circle cx="71.64" cy="491.75" r="1.3" fill="#c9c9cd" fill-opacity="0.32"/>
<circle cx="60.77" cy="475.99" r="1.3" fill="#c9c9cd" fill-opacity="0.32"/>
<circle cx="69.98" cy="482.56" r="1.3" fill="#c9c9cd" fill-opacity="0.32"/>
<circle cx="70.42" cy="492.92" r="1.3" fill="#c9c9cd" fill-opacity="0.32"/>
<circle cx="75.36" cy="478.67" r="1.3" fill="#c9c9cd" fill-opacity="0.32"/>
<circle cx="71.03" cy="490.50" r="1.3" fill="#c9c9cd" fill-opacity="0.32"/>
<circle cx="59.20" cy="474.77" r="1.3" fill="#c9c9cd" fill-opacity="0.32"/>
<circle cx="67.27" cy="475.87" r="1.3" fill="#c9c9cd" fill-opacity="0.32"/>
<circle cx="70.34" cy="484.52" r="1.3" fill="#c9c9cd" fill-opacity="0.32"/>
<circle cx="65.81" cy="476.18" r="1.3" fill="#c9c9cd" fill-opacity="0.32"/>
<circle cx="73.18" cy="485.03" r="1.3" fill="#c9c9cd" fill-opacity="0.32"/>
<circle cx="65.81" cy="470.52" r="1.3" fill="#c9c9cd" fill-opacity="0.32"/>
<circle cx="68.17" cy="479.38" r="1.3" fill="#c9c9cd" fill-opacity="0.32"/>
<circle cx="71.12" cy="489.46" r="1.3" fill="#c9c9cd" fill-opacity="0.32"/>
<circle cx="69.20" cy="485.65" r="1.3" fill="#c9c9cd" fill-opacity="0.32"/>
<circle cx="68.90" cy="483.05" r="1.3" fill="#c9c9cd" fill-opacity="0.32"/>
<circle cx="60.92" cy="474.51" r="1.3" fill="#c9c9cd" fill-opacity="0.32"/>
<circle cx="72.45" cy="469.14" r="1.3" fill="#c9c9cd" fill-opacity="0.32"/>
<circle cx="75.86" cy="479.09" r="1.3" fill="#c9c9cd" fill-opacity="0.32"/>
<circle cx="69.50" cy="481.26" r="1.3" fill="#c9c9cd" fill-opacity="0.32"/>
<circle cx="71.34" cy="478.63" r="1.3" fill="#c9c9cd" fill-opacity="0.32"/>
<circle cx="71.37" cy="477.23" r="1.3" fill="#c9c9cd" fill-opacity="0.32"/>
<circle cx="72.62" cy="469.45" r="1.3" fill="#c9c9cd" fill-opacity="0.32"/>
<circle cx="75.62" cy="483.42" r="1.3" fill="#c9c9cd" fill-opacity="0.32"/>
<circle cx="72.75" cy="484.54" r="1.3" fill="#c9c9cd" fill-opacity="0.32"/>
<circle cx="75.02" cy="474.74" r="1.3" fill="#c9c9cd" fill-opacity="0.32"/>
<circle cx="73.58" cy="484.83" r="1.3" fill="#c9c9cd" fill-opacity="0.32"/>
<circle cx="72.57" cy="479.53" r="1.3" fill="#c9c9cd" fill-opacity="0.32"/>
<circle cx="68.62" cy="483.63" r="1.3" fill="#c9c9cd" fill-opacity="0.32"/>
<circle cx="69.17" cy="479.20" r="1.3" fill="#c9c9cd" fill-opacity="0.32"/>
<circle cx="71.94" cy="482.09" r="1.3" fill="#c9c9cd" fill-opacity="0.32"/>
<circle cx="70.10" cy="484.37" r="1.3" fill="#c9c9cd" fill-opacity="0.32"/>
<circle cx="69.96" cy="492.06" r="1.3" fill="#c9c9cd" fill-opacity="0.32"/>
<circle cx="69.30" cy="471.61" r="1.3" fill="#c9c9cd" fill-opacity="0.32"/>
<circle cx="64.93" cy="471.59" r="1.3" fill="#c9c9cd" fill-opacity="0.32"/>
<circle cx="64.84" cy="472.68" r="1.3" fill="#c9c9cd" fill-opacity="0.32"/>
<circle cx="59.96" cy="473.73" r="1.3" fill="#c9c9cd" fill-opacity="0.32"/>
<circle cx="74.69" cy="474.11" r="1.3" fill="#c9c9cd" fill-opacity="0.32"/>
<circle cx="60.86" cy="470.96" r="1.3" fill="#c9c9cd" fill-opacity="0.32"/>
<circle cx="70.39" cy="470.61" r="1.3" fill="#c9c9cd" fill-opacity="0.32"/>
<circle cx="73.53" cy="470.84" r="1.3" fill="#c9c9cd" fill-opacity="0.32"/>
<circle cx="74.04" cy="473.35" r="1.3" fill="#c9c9cd" fill-opacity="0.32"/>
<circle cx="72.70" cy="486.22" r="1.3" fill="#c9c9cd" fill-opacity="0.32"/>
<circle cx="72.62" cy="481.06" r="1.3" fill="#c9c9cd" fill-opacity="0.32"/>
<circle cx="59.97" cy="476.03" r="1.3" fill="#c9c9cd" fill-opacity="0.32"/>
<circle cx="71.09" cy="473.58" r="1.3" fill="#c9c9cd" fill-opacity="0.32"/>
<circle cx="69.34" cy="492.02" r="1.3" fill="#c9c9cd" fill-opacity="0.32"/>
<circle cx="72.23" cy="486.08" r="1.3" fill="#c9c9cd" fill-opacity="0.32"/>
<circle cx="73.77" cy="485.87" r="1.3" fill="#c9c9cd" fill-opacity="0.32"/>
<polygon points="55.9,493.8 55.9,477.0 59.0,477.5 62.0,476.5 65.0,477.2 67.8,478.0 68.2,486.0 67.8,493.8" fill="#c8c8cc" stroke="#c8c8cc" stroke-width="0.8" stroke-linejoin="round"/>
<circle cx="140.00" cy="418.75" r="1.2" fill="#e3e3e7" fill-opacity="0.95"/>
<circle cx="115.50" cy="437.50" r="1.2" fill="#e3e3e7" fill-opacity="0.95"/>
<circle cx="98.75" cy="448.00" r="1.2" fill="#e3e3e7" fill-opacity="0.95"/>
<circle cx="83.75" cy="451.75" r="1.2" fill="#e3e3e7" fill-opacity="0.95"/>
<circle cx="88.75" cy="459.25" r="1.2" fill="#e3e3e7" fill-opacity="0.95"/>
<circle cx="83.50" cy="451.50" r="1.2" fill="#e3e3e7" fill-opacity="0.95"/>
<circle cx="88.00" cy="458.50" r="1.2" fill="#e3e3e7" fill-opacity="0.95"/>
<circle cx="70.20" cy="459.00" r="1.2" fill="#e3e3e7" fill-opacity="0.95"/>
<circle cx="98.40" cy="448.00" r="1.2" fill="#e3e3e7" fill-opacity="0.95"/>
<circle cx="81.10" cy="483.30" r="1.2" fill="#e3e3e7" fill-opacity="0.95"/>
<circle cx="80.00" cy="477.00" r="1.2" fill="#e3e3e7" fill-opacity="0.95"/>
<circle cx="68.20" cy="444.60" r="2.3" fill="#d83a48" fill-opacity="0.25"/>
<circle cx="68.20" cy="444.60" r="1.55" fill="#921a24"/>
<circle cx="63.30" cy="452.90" r="2.3" fill="#d83a48" fill-opacity="0.25"/>
<circle cx="63.30" cy="452.90" r="1.55" fill="#921a24"/>
<circle cx="61.90" cy="455.60" r="2.3" fill="#d83a48" fill-opacity="0.25"/>
<circle cx="61.90" cy="455.60" r="1.55" fill="#921a24"/>
<circle cx="63.80" cy="466.30" r="2.3" fill="#d83a48" fill-opacity="0.25"/>
<circle cx="63.80" cy="466.30" r="1.55" fill="#921a24"/>
<circle cx="61.50" cy="468.30" r="2.3" fill="#d83a48" fill-opacity="0.25"/>
<circle cx="61.50" cy="468.30" r="1.55" fill="#921a24"/>
<circle cx="57.50" cy="472.90" r="2.3" fill="#d83a48" fill-opacity="0.25"/>
<circle cx="57.50" cy="472.90" r="1.55" fill="#921a24"/>
<circle cx="58.10" cy="474.60" r="2.3" fill="#d83a48" fill-opacity="0.25"/>
<circle cx="58.10" cy="474.60" r="1.55" fill="#921a24"/>
<circle cx="56.80" cy="474.00" r="2.3" fill="#d83a48" fill-opacity="0.25"/>
<circle cx="56.80" cy="474.00" r="1.55" fill="#921a24"/>
<circle cx="58.70" cy="471.10" r="2.3" fill="#d83a48" fill-opacity="0.25"/>
<circle cx="58.70" cy="471.10" r="1.55" fill="#921a24"/>
<circle cx="57.00" cy="476.00" r="2.3" fill="#d83a48" fill-opacity="0.25"/>
<circle cx="57.00" cy="476.00" r="1.55" fill="#921a24"/>
<circle cx="59.50" cy="473.00" r="2.3" fill="#d83a48" fill-opacity="0.25"/>
<circle cx="59.50" cy="473.00" r="1.55" fill="#921a24"/>
<circle cx="143.30" cy="435.80" r="2.3" fill="#d83a48" fill-opacity="0.25"/>
<circle cx="143.30" cy="435.80" r="1.55" fill="#921a24"/>
<line x1="69.90" y1="442.70" x2="74.80" y2="437.30" stroke="#1a1a1a" stroke-width="1.1"/>
<text x="74.60" y="435.70" font-size="6.6" text-anchor="start" fill="#333" stroke="#333" stroke-width="0.15" font-style="italic" textLength="14.80" lengthAdjust="spacingAndGlyphs">TP53</text>
<line x1="140.40" y1="445.60" x2="142.50" y2="438.70" stroke="#1a1a1a" stroke-width="1.1"/>
<text x="131.80" y="453.40" font-size="6.6" text-anchor="middle" fill="#333" stroke="#333" stroke-width="0.15" font-style="italic" textLength="29.20" lengthAdjust="spacingAndGlyphs">CREBBP</text>
<line x1="51.80" y1="193.20" x2="51.80" y2="305.90" stroke="#1a1a1a" stroke-width="1.25"/>
<line x1="48.80" y1="300.40" x2="51.80" y2="300.40" stroke="#222" stroke-width="1.3"/>
<text x="45.40" y="303.30" font-size="7.0" text-anchor="end" fill="#3d3d3d" stroke="#3d3d3d" stroke-width="0.15">0<tspan font-size="6.6" >%</tspan></text>
<line x1="48.80" y1="284.60" x2="51.80" y2="284.60" stroke="#222" stroke-width="1.3"/>
<text x="45.40" y="287.50" font-size="7.0" text-anchor="end" fill="#3d3d3d" stroke="#3d3d3d" stroke-width="0.15">10<tspan font-size="6.6" >%</tspan></text>
<line x1="48.80" y1="268.80" x2="51.80" y2="268.80" stroke="#222" stroke-width="1.3"/>
<text x="45.40" y="271.70" font-size="7.0" text-anchor="end" fill="#3d3d3d" stroke="#3d3d3d" stroke-width="0.15">20<tspan font-size="6.6" >%</tspan></text>
<line x1="48.80" y1="253.00" x2="51.80" y2="253.00" stroke="#222" stroke-width="1.3"/>
<text x="45.40" y="255.90" font-size="7.0" text-anchor="end" fill="#3d3d3d" stroke="#3d3d3d" stroke-width="0.15">30<tspan font-size="6.6" >%</tspan></text>
<line x1="48.80" y1="237.20" x2="51.80" y2="237.20" stroke="#222" stroke-width="1.3"/>
<text x="45.40" y="240.10" font-size="7.0" text-anchor="end" fill="#3d3d3d" stroke="#3d3d3d" stroke-width="0.15">40<tspan font-size="6.6" >%</tspan></text>
<line x1="48.80" y1="221.40" x2="51.80" y2="221.40" stroke="#222" stroke-width="1.3"/>
<text x="45.40" y="224.30" font-size="7.0" text-anchor="end" fill="#3d3d3d" stroke="#3d3d3d" stroke-width="0.15">50<tspan font-size="6.6" >%</tspan></text>
<line x1="48.80" y1="205.60" x2="51.80" y2="205.60" stroke="#222" stroke-width="1.3"/>
<text x="45.40" y="208.50" font-size="7.0" text-anchor="end" fill="#3d3d3d" stroke="#3d3d3d" stroke-width="0.15">60<tspan font-size="6.6" >%</tspan></text>
<rect x="56.80" y="271.96" width="6.30" height="28.44" fill="#36ad32"/>
<rect x="63.10" y="296.13" width="6.30" height="4.27" fill="#c6c6cc"/>
<rect x="75.38" y="271.96" width="6.30" height="28.44" fill="#36ad32"/>
<rect x="81.68" y="295.19" width="6.30" height="5.21" fill="#c6c6cc"/>
<rect x="93.96" y="275.91" width="6.30" height="24.49" fill="#1c4a82"/>
<rect x="100.26" y="294.08" width="6.30" height="6.32" fill="#fbbc0a"/>
<rect x="112.54" y="280.02" width="6.30" height="20.38" fill="#36ad32"/>
<rect x="118.84" y="298.82" width="6.30" height="1.58" fill="#c6c6cc"/>
<rect x="131.12" y="284.13" width="6.30" height="16.27" fill="#36ad32"/>
<rect x="137.42" y="299.93" width="6.30" height="0.47" fill="#c6c6cc"/>
<rect x="149.70" y="284.13" width="6.30" height="16.27" fill="#36ad32"/>
<rect x="156.00" y="298.82" width="6.30" height="1.58" fill="#c6c6cc"/>
<line x1="51.20" y1="305.40" x2="167.30" y2="305.40" stroke="#1a1a1a" stroke-width="1.25"/>
<line x1="63.10" y1="305.40" x2="63.10" y2="308.40" stroke="#222" stroke-width="1.3"/>
<text x="66.70" y="315.40" font-size="7.4" text-anchor="end" fill="#383838" stroke="#383838" stroke-width="0.08" font-style="italic" textLength="22.11" lengthAdjust="spacingAndGlyphs" transform="rotate(-45 66.70 315.40)">HIVEP1</text>
<line x1="81.68" y1="305.40" x2="81.68" y2="308.40" stroke="#222" stroke-width="1.3"/>
<text x="85.28" y="315.40" font-size="7.4" text-anchor="end" fill="#383838" stroke="#383838" stroke-width="0.08" font-style="italic" textLength="23.84" lengthAdjust="spacingAndGlyphs" transform="rotate(-45 85.28 315.40)">COL6A3</text>
<line x1="100.26" y1="305.40" x2="100.26" y2="308.40" stroke="#222" stroke-width="1.3"/>
<text x="103.86" y="315.40" font-size="7.4" text-anchor="end" fill="#383838" stroke="#383838" stroke-width="0.08" font-style="italic" textLength="18.65" lengthAdjust="spacingAndGlyphs" transform="rotate(-45 103.86 315.40)">GNAI2</text>
<line x1="118.84" y1="305.40" x2="118.84" y2="308.40" stroke="#222" stroke-width="1.3"/>
<text x="122.44" y="315.40" font-size="7.4" text-anchor="end" fill="#383838" stroke="#383838" stroke-width="0.08" font-style="italic" textLength="25.57" lengthAdjust="spacingAndGlyphs" transform="rotate(-45 122.44 315.40)">ZFP36L1</text>
<line x1="137.42" y1="305.40" x2="137.42" y2="308.40" stroke="#222" stroke-width="1.3"/>
<text x="141.02" y="315.40" font-size="7.4" text-anchor="end" fill="#383838" stroke="#383838" stroke-width="0.08" font-style="italic" textLength="32.82" lengthAdjust="spacingAndGlyphs" transform="rotate(-45 141.02 315.40)">ADAMTS13</text>
<line x1="156.00" y1="305.40" x2="156.00" y2="308.40" stroke="#222" stroke-width="1.3"/>
<text x="159.60" y="315.40" font-size="7.4" text-anchor="end" fill="#383838" stroke="#383838" stroke-width="0.08" font-style="italic" textLength="20.04" lengthAdjust="spacingAndGlyphs" transform="rotate(-45 159.60 315.40)">CD79B</text>
<text x="26.60" y="250.30" font-size="9.0" text-anchor="middle" fill="#2a2a2a" stroke="#2a2a2a" stroke-width="0.25" textLength="46.40" lengthAdjust="spacingAndGlyphs" transform="rotate(-90 26.60 250.30)">Percent mutated</text>
<text x="109.80" y="352.30" font-size="9.0" text-anchor="middle" fill="#2a2a2a" stroke="#2a2a2a" stroke-width="0.25" textLength="14.50" lengthAdjust="spacingAndGlyphs">Gene</text>
<polygon points="101.80,206.20 112.60,206.20 101.80,216.20" fill="#1c4a82"/>
<polygon points="112.60,206.20 112.60,216.20 101.80,216.20" fill="#36ad32"/>
<text x="116.20" y="213.50" font-size="6.3" text-anchor="start" fill="#333" stroke="#333" stroke-width="0.03" textLength="53.80" lengthAdjust="spacingAndGlyphs">Initial watch-and-wait</text>
<polygon points="101.80,219.70 112.60,219.70 101.80,229.70" fill="#fbbc0a"/>
<polygon points="112.60,219.70 112.60,229.70 101.80,229.70" fill="#c6c6cc"/>
<text x="116.20" y="227.00" font-size="6.3" text-anchor="start" fill="#333" stroke="#333" stroke-width="0.03" textLength="39.00" lengthAdjust="spacingAndGlyphs">Initial treatment</text>
<line x1="231.20" y1="191.00" x2="231.20" y2="305.90" stroke="#1a1a1a" stroke-width="1.25"/>
<line x1="228.20" y1="300.50" x2="231.20" y2="300.50" stroke="#222" stroke-width="1.3"/>
<text x="224.90" y="303.40" font-size="7.0" text-anchor="end" fill="#3d3d3d" stroke="#3d3d3d" stroke-width="0.15">0<tspan font-size="6.6" >%</tspan></text>
<line x1="228.20" y1="284.35" x2="231.20" y2="284.35" stroke="#222" stroke-width="1.3"/>
<text x="224.90" y="287.25" font-size="7.0" text-anchor="end" fill="#3d3d3d" stroke="#3d3d3d" stroke-width="0.15">10<tspan font-size="6.6" >%</tspan></text>
<line x1="228.20" y1="268.20" x2="231.20" y2="268.20" stroke="#222" stroke-width="1.3"/>
<text x="224.90" y="271.10" font-size="7.0" text-anchor="end" fill="#3d3d3d" stroke="#3d3d3d" stroke-width="0.15">20<tspan font-size="6.6" >%</tspan></text>
<line x1="228.20" y1="252.05" x2="231.20" y2="252.05" stroke="#222" stroke-width="1.3"/>
<text x="224.90" y="254.95" font-size="7.0" text-anchor="end" fill="#3d3d3d" stroke="#3d3d3d" stroke-width="0.15">30<tspan font-size="6.6" >%</tspan></text>
<line x1="228.20" y1="235.90" x2="231.20" y2="235.90" stroke="#222" stroke-width="1.3"/>
<text x="224.90" y="238.80" font-size="7.0" text-anchor="end" fill="#3d3d3d" stroke="#3d3d3d" stroke-width="0.15">40<tspan font-size="6.6" >%</tspan></text>
<line x1="228.20" y1="219.75" x2="231.20" y2="219.75" stroke="#222" stroke-width="1.3"/>
<text x="224.90" y="222.65" font-size="7.0" text-anchor="end" fill="#3d3d3d" stroke="#3d3d3d" stroke-width="0.15">50<tspan font-size="6.6" >%</tspan></text>
<line x1="228.20" y1="203.60" x2="231.20" y2="203.60" stroke="#222" stroke-width="1.3"/>
<text x="224.90" y="206.50" font-size="7.0" text-anchor="end" fill="#3d3d3d" stroke="#3d3d3d" stroke-width="0.15">60<tspan font-size="6.6" >%</tspan></text>
<rect x="237.15" y="264.32" width="8.60" height="36.18" fill="#36ad32"/>
<rect x="245.75" y="297.92" width="8.60" height="2.58" fill="#c6c6cc"/>
<rect x="261.40" y="297.92" width="8.60" height="2.58" fill="#36ad32"/>
<rect x="270.00" y="280.47" width="8.60" height="20.03" fill="#c6c6cc"/>
<rect x="285.65" y="299.21" width="8.60" height="1.29" fill="#36ad32"/>
<rect x="294.25" y="283.06" width="8.60" height="17.44" fill="#c6c6cc"/>
<line x1="230.60" y1="305.40" x2="308.75" y2="305.40" stroke="#1a1a1a" stroke-width="1.25"/>
<line x1="245.75" y1="305.40" x2="245.75" y2="308.40" stroke="#222" stroke-width="1.3"/>
<text x="249.35" y="315.40" font-size="7.4" text-anchor="end" fill="#383838" stroke="#383838" stroke-width="0.08" font-style="italic" textLength="22.11" lengthAdjust="spacingAndGlyphs" transform="rotate(-45 249.35 315.40)">OBSCN</text>
<line x1="270.00" y1="305.40" x2="270.00" y2="308.40" stroke="#222" stroke-width="1.3"/>
<text x="273.60" y="315.40" font-size="7.4" text-anchor="end" fill="#383838" stroke="#383838" stroke-width="0.08" font-style="italic" textLength="20.73" lengthAdjust="spacingAndGlyphs" transform="rotate(-45 273.60 315.40)">KIF20B</text>
<line x1="294.25" y1="305.40" x2="294.25" y2="308.40" stroke="#222" stroke-width="1.3"/>
<text x="297.85" y="315.40" font-size="7.4" text-anchor="end" fill="#383838" stroke="#383838" stroke-width="0.08" font-style="italic" textLength="20.61" lengthAdjust="spacingAndGlyphs" transform="rotate(-45 297.85 315.40)">TRIP11</text>
<text x="206.20" y="248.95" font-size="9.0" text-anchor="middle" fill="#2a2a2a" stroke="#2a2a2a" stroke-width="0.25" textLength="46.70" lengthAdjust="spacingAndGlyphs" transform="rotate(-90 206.20 248.95)">Percent mutated</text>
<text x="269.70" y="343.30" font-size="9.0" text-anchor="middle" fill="#2a2a2a" stroke="#2a2a2a" stroke-width="0.25" textLength="14.50" lengthAdjust="spacingAndGlyphs">Gene</text>
<polygon points="267.20,204.60 278.00,204.60 267.20,214.60" fill="#1c4a82"/>
<polygon points="278.00,204.60 278.00,214.60 267.20,214.60" fill="#36ad32"/>
<text x="281.00" y="211.90" font-size="6.3" text-anchor="start" fill="#333" stroke="#333" stroke-width="0.03" textLength="30.00" lengthAdjust="spacingAndGlyphs">No POD24</text>
<polygon points="267.20,217.90 278.00,217.90 267.20,227.90" fill="#fbbc0a"/>
<polygon points="278.00,217.90 278.00,227.90 267.20,227.90" fill="#c6c6cc"/>
<text x="281.00" y="225.20" font-size="6.3" text-anchor="start" fill="#333" stroke="#333" stroke-width="0.03" textLength="20.20" lengthAdjust="spacingAndGlyphs">POD24</text>
<line x1="397.50" y1="190.50" x2="397.50" y2="305.90" stroke="#1a1a1a" stroke-width="1.25"/>
<line x1="394.50" y1="300.50" x2="397.50" y2="300.50" stroke="#222" stroke-width="1.3"/>
<text x="391.00" y="303.40" font-size="7.0" text-anchor="end" fill="#3d3d3d" stroke="#3d3d3d" stroke-width="0.15">0<tspan font-size="6.6" >%</tspan></text>
<line x1="394.50" y1="284.40" x2="397.50" y2="284.40" stroke="#222" stroke-width="1.3"/>
<text x="391.00" y="287.30" font-size="7.0" text-anchor="end" fill="#3d3d3d" stroke="#3d3d3d" stroke-width="0.15">10<tspan font-size="6.6" >%</tspan></text>
<line x1="394.50" y1="268.30" x2="397.50" y2="268.30" stroke="#222" stroke-width="1.3"/>
<text x="391.00" y="271.20" font-size="7.0" text-anchor="end" fill="#3d3d3d" stroke="#3d3d3d" stroke-width="0.15">20<tspan font-size="6.6" >%</tspan></text>
<line x1="394.50" y1="252.20" x2="397.50" y2="252.20" stroke="#222" stroke-width="1.3"/>
<text x="391.00" y="255.10" font-size="7.0" text-anchor="end" fill="#3d3d3d" stroke="#3d3d3d" stroke-width="0.15">30<tspan font-size="6.6" >%</tspan></text>
<line x1="394.50" y1="236.10" x2="397.50" y2="236.10" stroke="#222" stroke-width="1.3"/>
<text x="391.00" y="239.00" font-size="7.0" text-anchor="end" fill="#3d3d3d" stroke="#3d3d3d" stroke-width="0.15">40<tspan font-size="6.6" >%</tspan></text>
<line x1="394.50" y1="220.00" x2="397.50" y2="220.00" stroke="#222" stroke-width="1.3"/>
<text x="391.00" y="222.90" font-size="7.0" text-anchor="end" fill="#3d3d3d" stroke="#3d3d3d" stroke-width="0.15">50<tspan font-size="6.6" >%</tspan></text>
<line x1="394.50" y1="203.90" x2="397.50" y2="203.90" stroke="#222" stroke-width="1.3"/>
<text x="391.00" y="206.80" font-size="7.0" text-anchor="end" fill="#3d3d3d" stroke="#3d3d3d" stroke-width="0.15">60<tspan font-size="6.6" >%</tspan></text>
<rect x="402.75" y="280.05" width="8.00" height="20.45" fill="#1c4a82"/>
<rect x="410.75" y="254.29" width="8.00" height="46.21" fill="#fbbc0a"/>
<rect x="425.00" y="281.82" width="8.00" height="18.68" fill="#36ad32"/>
<rect x="447.50" y="291.48" width="8.00" height="9.02" fill="#36ad32"/>
<rect x="455.50" y="272.49" width="8.00" height="28.01" fill="#c6c6cc"/>
<rect x="469.50" y="297.76" width="8.00" height="2.74" fill="#36ad32"/>
<rect x="477.50" y="278.76" width="8.00" height="21.74" fill="#c6c6cc"/>
<rect x="492.00" y="298.25" width="8.00" height="2.25" fill="#36ad32"/>
<rect x="500.00" y="281.99" width="8.00" height="18.52" fill="#c6c6cc"/>
<line x1="397.00" y1="305.40" x2="513.00" y2="305.40" stroke="#1a1a1a" stroke-width="1.25"/>
<line x1="410.75" y1="305.40" x2="410.75" y2="308.40" stroke="#222" stroke-width="1.3"/>
<text x="414.35" y="315.40" font-size="7.4" text-anchor="end" fill="#383838" stroke="#383838" stroke-width="0.08" font-style="italic" textLength="18.42" lengthAdjust="spacingAndGlyphs" transform="rotate(-45 414.35 315.40)">STAT6</text>
<line x1="433.00" y1="305.40" x2="433.00" y2="308.40" stroke="#222" stroke-width="1.3"/>
<text x="436.60" y="315.40" font-size="7.4" text-anchor="end" fill="#383838" stroke="#383838" stroke-width="0.08" font-style="italic" textLength="20.38" lengthAdjust="spacingAndGlyphs" transform="rotate(-45 436.60 315.40)">GNA13</text>
<line x1="455.50" y1="305.40" x2="455.50" y2="308.40" stroke="#222" stroke-width="1.3"/>
<text x="459.10" y="315.40" font-size="7.4" text-anchor="end" fill="#383838" stroke="#383838" stroke-width="0.08" font-style="italic" textLength="21.07" lengthAdjust="spacingAndGlyphs" transform="rotate(-45 459.10 315.40)">HSPG2</text>
<line x1="477.50" y1="305.40" x2="477.50" y2="308.40" stroke="#222" stroke-width="1.3"/>
<text x="481.10" y="315.40" font-size="7.4" text-anchor="end" fill="#383838" stroke="#383838" stroke-width="0.08" font-style="italic" textLength="16.93" lengthAdjust="spacingAndGlyphs" transform="rotate(-45 481.10 315.40)">NBAS</text>
<line x1="500.00" y1="305.40" x2="500.00" y2="308.40" stroke="#222" stroke-width="1.3"/>
<text x="503.60" y="315.40" font-size="7.4" text-anchor="end" fill="#383838" stroke="#383838" stroke-width="0.08" font-style="italic" textLength="23.72" lengthAdjust="spacingAndGlyphs" transform="rotate(-45 503.60 315.40)">MALAT1</text>
<text x="372.10" y="248.70" font-size="9.0" text-anchor="middle" fill="#2a2a2a" stroke="#2a2a2a" stroke-width="0.25" textLength="46.10" lengthAdjust="spacingAndGlyphs" transform="rotate(-90 372.10 248.70)">Percent mutated</text>
<text x="455.00" y="343.30" font-size="9.0" text-anchor="middle" fill="#2a2a2a" stroke="#2a2a2a" stroke-width="0.25" textLength="14.50" lengthAdjust="spacingAndGlyphs">Gene</text>
<polygon points="471.20,204.80 482.00,204.80 471.20,214.80" fill="#1c4a82"/>
<polygon points="482.00,204.80 482.00,214.80 471.20,214.80" fill="#36ad32"/>
<text x="485.00" y="212.10" font-size="6.3" text-anchor="start" fill="#333" stroke="#333" stroke-width="0.03" textLength="15.00" lengthAdjust="spacingAndGlyphs">Dx FL</text>
<polygon points="471.20,218.00 482.00,218.00 471.20,228.00" fill="#fbbc0a"/>
<polygon points="482.00,218.00 482.00,228.00 471.20,228.00" fill="#c6c6cc"/>
<text x="485.00" y="225.30" font-size="6.3" text-anchor="start" fill="#333" stroke="#333" stroke-width="0.03" textLength="26.00" lengthAdjust="spacingAndGlyphs">Rel/ref FL</text>
<line x1="200.50" y1="383.80" x2="200.50" y2="498.60" stroke="#1a1a1a" stroke-width="1.25"/>
<line x1="197.50" y1="493.00" x2="200.50" y2="493.00" stroke="#222" stroke-width="1.3"/>
<text x="193.80" y="495.90" font-size="7.0" text-anchor="end" fill="#3d3d3d" stroke="#3d3d3d" stroke-width="0.15">0<tspan font-size="6.6" >%</tspan></text>
<line x1="197.50" y1="476.96" x2="200.50" y2="476.96" stroke="#222" stroke-width="1.3"/>
<text x="193.80" y="479.86" font-size="7.0" text-anchor="end" fill="#3d3d3d" stroke="#3d3d3d" stroke-width="0.15">10<tspan font-size="6.6" >%</tspan></text>
<line x1="197.50" y1="460.92" x2="200.50" y2="460.92" stroke="#222" stroke-width="1.3"/>
<text x="193.80" y="463.82" font-size="7.0" text-anchor="end" fill="#3d3d3d" stroke="#3d3d3d" stroke-width="0.15">20<tspan font-size="6.6" >%</tspan></text>
<line x1="197.50" y1="444.88" x2="200.50" y2="444.88" stroke="#222" stroke-width="1.3"/>
<text x="193.80" y="447.78" font-size="7.0" text-anchor="end" fill="#3d3d3d" stroke="#3d3d3d" stroke-width="0.15">30<tspan font-size="6.6" >%</tspan></text>
<line x1="197.50" y1="428.84" x2="200.50" y2="428.84" stroke="#222" stroke-width="1.3"/>
<text x="193.80" y="431.74" font-size="7.0" text-anchor="end" fill="#3d3d3d" stroke="#3d3d3d" stroke-width="0.15">40<tspan font-size="6.6" >%</tspan></text>
<line x1="197.50" y1="412.80" x2="200.50" y2="412.80" stroke="#222" stroke-width="1.3"/>
<text x="193.80" y="415.70" font-size="7.0" text-anchor="end" fill="#3d3d3d" stroke="#3d3d3d" stroke-width="0.15">50<tspan font-size="6.6" >%</tspan></text>
<line x1="197.50" y1="396.76" x2="200.50" y2="396.76" stroke="#222" stroke-width="1.3"/>
<text x="193.80" y="399.66" font-size="7.0" text-anchor="end" fill="#3d3d3d" stroke="#3d3d3d" stroke-width="0.15">60<tspan font-size="6.6" >%</tspan></text>
<rect x="204.80" y="398.68" width="6.20" height="94.32" fill="#1c4a82"/>
<rect x="211.00" y="434.13" width="6.20" height="58.87" fill="#fbbc0a"/>
<rect x="222.70" y="480.33" width="6.20" height="12.67" fill="#1c4a82"/>
<rect x="228.90" y="445.52" width="6.20" height="47.48" fill="#fbbc0a"/>
<rect x="240.60" y="485.94" width="6.20" height="7.06" fill="#36ad32"/>
<rect x="246.80" y="452.26" width="6.20" height="40.74" fill="#c6c6cc"/>
<rect x="258.50" y="487.55" width="6.20" height="5.45" fill="#1c4a82"/>
<rect x="264.70" y="455.79" width="6.20" height="37.21" fill="#fbbc0a"/>
<rect x="276.40" y="485.46" width="6.20" height="7.54" fill="#36ad32"/>
<rect x="282.60" y="466.21" width="6.20" height="26.79" fill="#c6c6cc"/>
<rect x="294.30" y="487.71" width="6.20" height="5.29" fill="#1c4a82"/>
<rect x="300.50" y="469.26" width="6.20" height="23.74" fill="#fbbc0a"/>
<rect x="312.20" y="491.72" width="6.20" height="1.28" fill="#36ad32"/>
<rect x="318.40" y="472.95" width="6.20" height="20.05" fill="#c6c6cc"/>
<rect x="330.10" y="491.24" width="6.20" height="1.76" fill="#36ad32"/>
<rect x="336.30" y="472.95" width="6.20" height="20.05" fill="#c6c6cc"/>
<rect x="348.00" y="488.99" width="6.20" height="4.01" fill="#36ad32"/>
<rect x="354.20" y="472.95" width="6.20" height="20.05" fill="#c6c6cc"/>
<rect x="365.90" y="488.83" width="6.20" height="4.17" fill="#1c4a82"/>
<rect x="372.10" y="472.95" width="6.20" height="20.05" fill="#fbbc0a"/>
<rect x="383.80" y="492.52" width="6.20" height="0.48" fill="#36ad32"/>
<rect x="390.00" y="472.95" width="6.20" height="20.05" fill="#c6c6cc"/>
<rect x="401.70" y="492.04" width="6.20" height="0.96" fill="#36ad32"/>
<rect x="407.90" y="472.95" width="6.20" height="20.05" fill="#c6c6cc"/>
<rect x="419.60" y="492.04" width="6.20" height="0.96" fill="#36ad32"/>
<rect x="425.80" y="472.95" width="6.20" height="20.05" fill="#c6c6cc"/>
<rect x="437.50" y="492.68" width="6.20" height="0.32" fill="#36ad32"/>
<rect x="443.70" y="476.32" width="6.20" height="16.68" fill="#c6c6cc"/>
<rect x="455.40" y="492.04" width="6.20" height="0.96" fill="#36ad32"/>
<rect x="461.60" y="476.32" width="6.20" height="16.68" fill="#c6c6cc"/>
<rect x="473.30" y="491.24" width="6.20" height="1.76" fill="#1c4a82"/>
<rect x="479.50" y="476.32" width="6.20" height="16.68" fill="#fbbc0a"/>
<rect x="491.20" y="489.95" width="6.20" height="3.05" fill="#36ad32"/>
<rect x="497.40" y="476.32" width="6.20" height="16.68" fill="#c6c6cc"/>
<line x1="200.00" y1="498.00" x2="507.70" y2="498.00" stroke="#1a1a1a" stroke-width="1.25"/>
<line x1="211.00" y1="498.00" x2="211.00" y2="501.00" stroke="#222" stroke-width="1.3"/>
<text x="214.60" y="508.00" font-size="7.4" text-anchor="end" fill="#383838" stroke="#383838" stroke-width="0.08" font-style="italic" textLength="25.56" lengthAdjust="spacingAndGlyphs" transform="rotate(-45 214.60 508.00)">CREBBP</text>
<line x1="228.90" y1="498.00" x2="228.90" y2="501.00" stroke="#222" stroke-width="1.3"/>
<text x="232.50" y="508.00" font-size="7.4" text-anchor="end" fill="#383838" stroke="#383838" stroke-width="0.08" font-style="italic" textLength="14.86" lengthAdjust="spacingAndGlyphs" transform="rotate(-45 232.50 508.00)">TP53</text>
<line x1="246.80" y1="498.00" x2="246.80" y2="501.00" stroke="#222" stroke-width="1.3"/>
<text x="250.40" y="508.00" font-size="7.4" text-anchor="end" fill="#383838" stroke="#383838" stroke-width="0.08" font-style="italic" textLength="23.72" lengthAdjust="spacingAndGlyphs" transform="rotate(-45 250.40 508.00)">MALAT1</text>
<line x1="264.70" y1="498.00" x2="264.70" y2="501.00" stroke="#222" stroke-width="1.3"/>
<text x="268.30" y="508.00" font-size="7.4" text-anchor="end" fill="#383838" stroke="#383838" stroke-width="0.08" font-style="italic" textLength="16.93" lengthAdjust="spacingAndGlyphs" transform="rotate(-45 268.30 508.00)">IGLL5</text>
<line x1="282.60" y1="498.00" x2="282.60" y2="501.00" stroke="#222" stroke-width="1.3"/>
<text x="286.20" y="508.00" font-size="7.4" text-anchor="end" fill="#383838" stroke="#383838" stroke-width="0.08" font-style="italic" textLength="19.69" lengthAdjust="spacingAndGlyphs" transform="rotate(-45 286.20 508.00)">ZFHX4</text>
<line x1="300.50" y1="498.00" x2="300.50" y2="501.00" stroke="#222" stroke-width="1.3"/>
<text x="304.10" y="508.00" font-size="7.4" text-anchor="end" fill="#383838" stroke="#383838" stroke-width="0.08" font-style="italic" textLength="12.78" lengthAdjust="spacingAndGlyphs" transform="rotate(-45 304.10 508.00)">B2M</text>
<line x1="318.40" y1="498.00" x2="318.40" y2="501.00" stroke="#222" stroke-width="1.3"/>
<text x="322.00" y="508.00" font-size="7.4" text-anchor="end" fill="#383838" stroke="#383838" stroke-width="0.08" font-style="italic" textLength="17.27" lengthAdjust="spacingAndGlyphs" transform="rotate(-45 322.00 508.00)">FSIP2</text>
<line x1="336.30" y1="498.00" x2="336.30" y2="501.00" stroke="#222" stroke-width="1.3"/>
<text x="339.90" y="508.00" font-size="7.4" text-anchor="end" fill="#383838" stroke="#383838" stroke-width="0.08" font-style="italic" textLength="16.47" lengthAdjust="spacingAndGlyphs" transform="rotate(-45 339.90 508.00)">RYR3</text>
<line x1="354.20" y1="498.00" x2="354.20" y2="501.00" stroke="#222" stroke-width="1.3"/>
<text x="357.80" y="508.00" font-size="7.4" text-anchor="end" fill="#383838" stroke="#383838" stroke-width="0.08" font-style="italic" textLength="21.42" lengthAdjust="spacingAndGlyphs" transform="rotate(-45 357.80 508.00)">ACACB</text>
<line x1="372.10" y1="498.00" x2="372.10" y2="501.00" stroke="#222" stroke-width="1.3"/>
<text x="375.70" y="508.00" font-size="7.4" text-anchor="end" fill="#383838" stroke="#383838" stroke-width="0.08" font-style="italic" textLength="21.07" lengthAdjust="spacingAndGlyphs" transform="rotate(-45 375.70 508.00)">SOCS1</text>
<line x1="390.00" y1="498.00" x2="390.00" y2="501.00" stroke="#222" stroke-width="1.3"/>
<text x="393.60" y="508.00" font-size="7.4" text-anchor="end" fill="#383838" stroke="#383838" stroke-width="0.08" font-style="italic" textLength="24.87" lengthAdjust="spacingAndGlyphs" transform="rotate(-45 393.60 508.00)">NCKAP5</text>
<line x1="407.90" y1="498.00" x2="407.90" y2="501.00" stroke="#222" stroke-width="1.3"/>
<text x="411.50" y="508.00" font-size="7.4" text-anchor="end" fill="#383838" stroke="#383838" stroke-width="0.08" font-style="italic" textLength="20.73" lengthAdjust="spacingAndGlyphs" transform="rotate(-45 411.50 508.00)">PKHD1</text>
<line x1="425.80" y1="498.00" x2="425.80" y2="501.00" stroke="#222" stroke-width="1.3"/>
<text x="429.40" y="508.00" font-size="7.4" text-anchor="end" fill="#383838" stroke="#383838" stroke-width="0.08" font-style="italic" textLength="21.76" lengthAdjust="spacingAndGlyphs" transform="rotate(-45 429.40 508.00)">SRRM2</text>
<line x1="443.70" y1="498.00" x2="443.70" y2="501.00" stroke="#222" stroke-width="1.3"/>
<text x="447.30" y="508.00" font-size="7.4" text-anchor="end" fill="#383838" stroke="#383838" stroke-width="0.08" font-style="italic" textLength="21.07" lengthAdjust="spacingAndGlyphs" transform="rotate(-45 447.30 508.00)">DMBT1</text>
<line x1="461.60" y1="498.00" x2="461.60" y2="501.00" stroke="#222" stroke-width="1.3"/>
<text x="465.20" y="508.00" font-size="7.4" text-anchor="end" fill="#383838" stroke="#383838" stroke-width="0.08" font-style="italic" textLength="17.96" lengthAdjust="spacingAndGlyphs" transform="rotate(-45 465.20 508.00)">GRM6</text>
<line x1="479.50" y1="498.00" x2="479.50" y2="501.00" stroke="#222" stroke-width="1.3"/>
<text x="483.10" y="508.00" font-size="7.4" text-anchor="end" fill="#383838" stroke="#383838" stroke-width="0.08" font-style="italic" textLength="20.73" lengthAdjust="spacingAndGlyphs" transform="rotate(-45 483.10 508.00)">MYD88</text>
<line x1="497.40" y1="498.00" x2="497.40" y2="501.00" stroke="#222" stroke-width="1.3"/>
<text x="501.00" y="508.00" font-size="7.4" text-anchor="end" fill="#383838" stroke="#383838" stroke-width="0.08" font-style="italic" textLength="19.35" lengthAdjust="spacingAndGlyphs" transform="rotate(-45 501.00 508.00)">ASXL3</text>
<text x="175.60" y="441.70" font-size="9.0" text-anchor="middle" fill="#2a2a2a" stroke="#2a2a2a" stroke-width="0.25" textLength="46.10" lengthAdjust="spacingAndGlyphs" transform="rotate(-90 175.60 441.70)">Percent mutated</text>
<text x="354.20" y="540.00" font-size="9.0" text-anchor="middle" fill="#2a2a2a" stroke="#2a2a2a" stroke-width="0.25" textLength="13.20" lengthAdjust="spacingAndGlyphs">Gene</text>
<polygon points="465.00,397.20 475.80,397.20 465.00,407.20" fill="#1c4a82"/>
<polygon points="475.80,397.20 475.80,407.20 465.00,407.20" fill="#36ad32"/>
<text x="479.00" y="404.50" font-size="6.3" text-anchor="start" fill="#333" stroke="#333" stroke-width="0.03" textLength="6.80" lengthAdjust="spacingAndGlyphs">FL</text>
<polygon points="465.00,410.60 475.80,410.60 465.00,420.60" fill="#fbbc0a"/>
<polygon points="475.80,410.60 475.80,420.60 465.00,420.60" fill="#c6c6cc"/>
<text x="479.00" y="417.90" font-size="6.3" text-anchor="start" fill="#333" stroke="#333" stroke-width="0.03" textLength="10.50" lengthAdjust="spacingAndGlyphs">t-FL</text>
<rect x="0.5" y="0.5" width="519" height="549" fill="none" stroke="#4a4a4a" stroke-width="1.2"/>
</svg>
</body></html>
